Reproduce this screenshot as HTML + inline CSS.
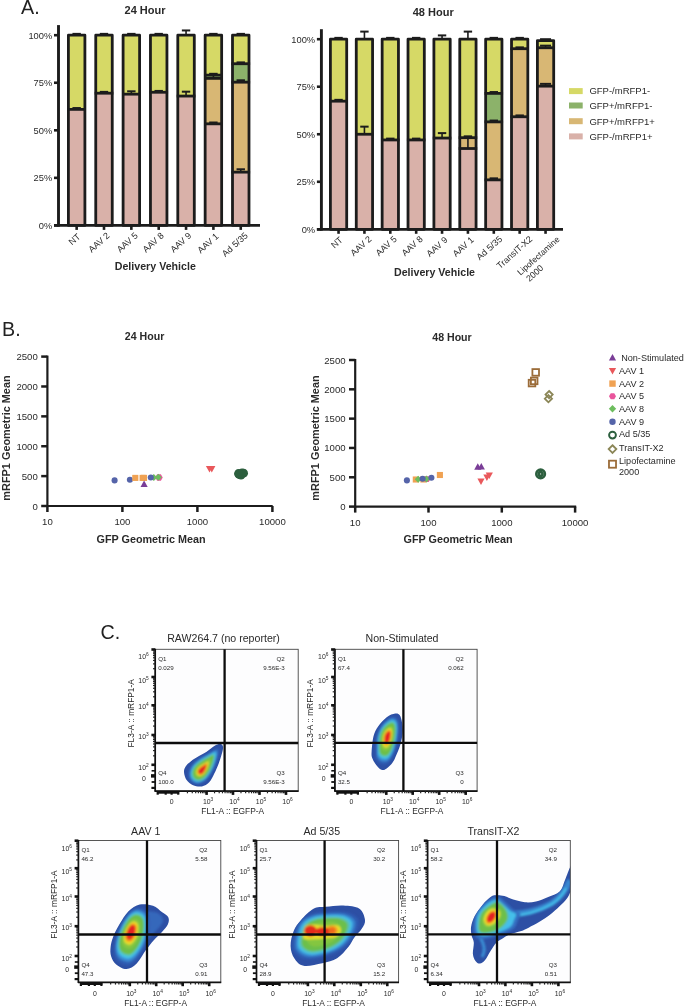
<!DOCTYPE html>
<html><head><meta charset="utf-8"><style>
html,body{margin:0;padding:0;background:#fff;width:685px;height:1008px;overflow:hidden;}
svg{display:block;will-change:transform;}
text{font-family:"Liberation Sans", sans-serif;}
</style></head><body>
<svg width="685" height="1008" viewBox="0 0 685 1008">
<defs><filter id="bl" x="-20%" y="-20%" width="140%" height="140%"><feGaussianBlur stdDeviation="0.85"/></filter><filter id="bl2" x="-20%" y="-20%" width="140%" height="140%"><feGaussianBlur stdDeviation="0.9"/></filter><clipPath id="cp5"><rect x="427.6" y="840.5" width="142.7" height="141.9"/></clipPath></defs>
<rect width="685" height="1008" fill="#fff"/>
<text x="21" y="14" font-size="19.7" fill="#222">A.</text>
<rect x="68.40" y="109.38" width="16.50" height="116.02" fill="#d9b1a9" stroke="none" stroke-width="0"/>
<rect x="68.40" y="35.20" width="16.50" height="74.18" fill="#d6d966" stroke="none" stroke-width="0"/>
<line x1="76.65" y1="109.38" x2="76.65" y2="108.05" stroke="#1c1c1c" stroke-width="1.6"/>
<line x1="72.45" y1="108.05" x2="80.85" y2="108.05" stroke="#1c1c1c" stroke-width="2.0"/>
<line x1="76.65" y1="35.20" x2="76.65" y2="33.87" stroke="#1c1c1c" stroke-width="1.6"/>
<line x1="72.45" y1="33.87" x2="80.85" y2="33.87" stroke="#1c1c1c" stroke-width="2.0"/>
<rect x="68.40" y="35.20" width="16.50" height="190.20" fill="none" stroke="#1c1c1c" stroke-width="2.8" stroke-linejoin="round"/>
<line x1="67.30" y1="109.38" x2="86.00" y2="109.38" stroke="#1c1c1c" stroke-width="2.8"/>
<line x1="76.65" y1="225.40" x2="76.65" y2="229.90" stroke="#1c1c1c" stroke-width="2.6"/>
<rect x="95.75" y="93.21" width="16.50" height="132.19" fill="#d9b1a9" stroke="none" stroke-width="0"/>
<rect x="95.75" y="35.20" width="16.50" height="58.01" fill="#d6d966" stroke="none" stroke-width="0"/>
<line x1="104.00" y1="93.21" x2="104.00" y2="91.88" stroke="#1c1c1c" stroke-width="1.6"/>
<line x1="99.80" y1="91.88" x2="108.20" y2="91.88" stroke="#1c1c1c" stroke-width="2.0"/>
<line x1="104.00" y1="35.20" x2="104.00" y2="33.87" stroke="#1c1c1c" stroke-width="1.6"/>
<line x1="99.80" y1="33.87" x2="108.20" y2="33.87" stroke="#1c1c1c" stroke-width="2.0"/>
<rect x="95.75" y="35.20" width="16.50" height="190.20" fill="none" stroke="#1c1c1c" stroke-width="2.8" stroke-linejoin="round"/>
<line x1="94.65" y1="93.21" x2="113.35" y2="93.21" stroke="#1c1c1c" stroke-width="2.8"/>
<line x1="104.00" y1="225.40" x2="104.00" y2="229.90" stroke="#1c1c1c" stroke-width="2.6"/>
<rect x="123.10" y="94.16" width="16.50" height="131.24" fill="#d9b1a9" stroke="none" stroke-width="0"/>
<rect x="123.10" y="35.20" width="16.50" height="58.96" fill="#d6d966" stroke="none" stroke-width="0"/>
<line x1="131.35" y1="94.16" x2="131.35" y2="91.31" stroke="#1c1c1c" stroke-width="1.6"/>
<line x1="127.15" y1="91.31" x2="135.55" y2="91.31" stroke="#1c1c1c" stroke-width="2.0"/>
<line x1="131.35" y1="35.20" x2="131.35" y2="33.87" stroke="#1c1c1c" stroke-width="1.6"/>
<line x1="127.15" y1="33.87" x2="135.55" y2="33.87" stroke="#1c1c1c" stroke-width="2.0"/>
<rect x="123.10" y="35.20" width="16.50" height="190.20" fill="none" stroke="#1c1c1c" stroke-width="2.8" stroke-linejoin="round"/>
<line x1="122.00" y1="94.16" x2="140.70" y2="94.16" stroke="#1c1c1c" stroke-width="2.8"/>
<line x1="131.35" y1="225.40" x2="131.35" y2="229.90" stroke="#1c1c1c" stroke-width="2.6"/>
<rect x="150.45" y="92.26" width="16.50" height="133.14" fill="#d9b1a9" stroke="none" stroke-width="0"/>
<rect x="150.45" y="35.20" width="16.50" height="57.06" fill="#d6d966" stroke="none" stroke-width="0"/>
<line x1="158.70" y1="92.26" x2="158.70" y2="90.93" stroke="#1c1c1c" stroke-width="1.6"/>
<line x1="154.50" y1="90.93" x2="162.90" y2="90.93" stroke="#1c1c1c" stroke-width="2.0"/>
<line x1="158.70" y1="35.20" x2="158.70" y2="33.87" stroke="#1c1c1c" stroke-width="1.6"/>
<line x1="154.50" y1="33.87" x2="162.90" y2="33.87" stroke="#1c1c1c" stroke-width="2.0"/>
<rect x="150.45" y="35.20" width="16.50" height="190.20" fill="none" stroke="#1c1c1c" stroke-width="2.8" stroke-linejoin="round"/>
<line x1="149.35" y1="92.26" x2="168.05" y2="92.26" stroke="#1c1c1c" stroke-width="2.8"/>
<line x1="158.70" y1="225.40" x2="158.70" y2="229.90" stroke="#1c1c1c" stroke-width="2.6"/>
<rect x="177.80" y="96.06" width="16.50" height="129.34" fill="#d9b1a9" stroke="none" stroke-width="0"/>
<rect x="177.80" y="35.20" width="16.50" height="60.86" fill="#d6d966" stroke="none" stroke-width="0"/>
<line x1="186.05" y1="96.06" x2="186.05" y2="91.69" stroke="#1c1c1c" stroke-width="1.6"/>
<line x1="181.85" y1="91.69" x2="190.25" y2="91.69" stroke="#1c1c1c" stroke-width="2.0"/>
<line x1="186.05" y1="35.20" x2="186.05" y2="30.45" stroke="#1c1c1c" stroke-width="1.6"/>
<line x1="181.85" y1="30.45" x2="190.25" y2="30.45" stroke="#1c1c1c" stroke-width="2.0"/>
<rect x="177.80" y="35.20" width="16.50" height="190.20" fill="none" stroke="#1c1c1c" stroke-width="2.8" stroke-linejoin="round"/>
<line x1="176.70" y1="96.06" x2="195.40" y2="96.06" stroke="#1c1c1c" stroke-width="2.8"/>
<line x1="186.05" y1="225.40" x2="186.05" y2="229.90" stroke="#1c1c1c" stroke-width="2.6"/>
<rect x="205.15" y="123.83" width="16.50" height="101.57" fill="#d9b1a9" stroke="none" stroke-width="0"/>
<rect x="205.15" y="78.38" width="16.50" height="45.46" fill="#d8b774" stroke="none" stroke-width="0"/>
<rect x="205.15" y="75.14" width="16.50" height="3.23" fill="#8cb26a" stroke="none" stroke-width="0"/>
<rect x="205.15" y="35.20" width="16.50" height="39.94" fill="#d6d966" stroke="none" stroke-width="0"/>
<line x1="213.40" y1="78.38" x2="213.40" y2="74.76" stroke="#1c1c1c" stroke-width="1.6"/>
<line x1="209.20" y1="74.76" x2="217.60" y2="74.76" stroke="#1c1c1c" stroke-width="2.0"/>
<line x1="213.40" y1="123.83" x2="213.40" y2="122.50" stroke="#1c1c1c" stroke-width="1.6"/>
<line x1="209.20" y1="122.50" x2="217.60" y2="122.50" stroke="#1c1c1c" stroke-width="2.0"/>
<line x1="213.40" y1="75.14" x2="213.40" y2="73.81" stroke="#1c1c1c" stroke-width="1.6"/>
<line x1="209.20" y1="73.81" x2="217.60" y2="73.81" stroke="#1c1c1c" stroke-width="2.0"/>
<line x1="213.40" y1="35.20" x2="213.40" y2="33.87" stroke="#1c1c1c" stroke-width="1.6"/>
<line x1="209.20" y1="33.87" x2="217.60" y2="33.87" stroke="#1c1c1c" stroke-width="2.0"/>
<rect x="205.15" y="35.20" width="16.50" height="190.20" fill="none" stroke="#1c1c1c" stroke-width="2.8" stroke-linejoin="round"/>
<line x1="204.05" y1="123.83" x2="222.75" y2="123.83" stroke="#1c1c1c" stroke-width="2.8"/>
<line x1="204.05" y1="78.38" x2="222.75" y2="78.38" stroke="#1c1c1c" stroke-width="2.8"/>
<line x1="204.05" y1="75.14" x2="222.75" y2="75.14" stroke="#1c1c1c" stroke-width="2.8"/>
<line x1="213.40" y1="225.40" x2="213.40" y2="229.90" stroke="#1c1c1c" stroke-width="2.6"/>
<rect x="232.50" y="172.14" width="16.50" height="53.26" fill="#d9b1a9" stroke="none" stroke-width="0"/>
<rect x="232.50" y="82.18" width="16.50" height="89.96" fill="#d8b774" stroke="none" stroke-width="0"/>
<rect x="232.50" y="63.73" width="16.50" height="18.45" fill="#8cb26a" stroke="none" stroke-width="0"/>
<rect x="232.50" y="35.20" width="16.50" height="28.53" fill="#d6d966" stroke="none" stroke-width="0"/>
<line x1="240.75" y1="172.14" x2="240.75" y2="169.29" stroke="#1c1c1c" stroke-width="1.6"/>
<line x1="236.55" y1="169.29" x2="244.95" y2="169.29" stroke="#1c1c1c" stroke-width="2.0"/>
<line x1="240.75" y1="82.18" x2="240.75" y2="80.28" stroke="#1c1c1c" stroke-width="1.6"/>
<line x1="236.55" y1="80.28" x2="244.95" y2="80.28" stroke="#1c1c1c" stroke-width="2.0"/>
<line x1="240.75" y1="63.73" x2="240.75" y2="62.40" stroke="#1c1c1c" stroke-width="1.6"/>
<line x1="236.55" y1="62.40" x2="244.95" y2="62.40" stroke="#1c1c1c" stroke-width="2.0"/>
<line x1="240.75" y1="35.20" x2="240.75" y2="33.87" stroke="#1c1c1c" stroke-width="1.6"/>
<line x1="236.55" y1="33.87" x2="244.95" y2="33.87" stroke="#1c1c1c" stroke-width="2.0"/>
<rect x="232.50" y="35.20" width="16.50" height="190.20" fill="none" stroke="#1c1c1c" stroke-width="2.8" stroke-linejoin="round"/>
<line x1="231.40" y1="172.14" x2="250.10" y2="172.14" stroke="#1c1c1c" stroke-width="2.8"/>
<line x1="231.40" y1="82.18" x2="250.10" y2="82.18" stroke="#1c1c1c" stroke-width="2.8"/>
<line x1="231.40" y1="63.73" x2="250.10" y2="63.73" stroke="#1c1c1c" stroke-width="2.8"/>
<line x1="240.75" y1="225.40" x2="240.75" y2="229.90" stroke="#1c1c1c" stroke-width="2.6"/>
<line x1="58.50" y1="25.10" x2="58.50" y2="226.70" stroke="#1c1c1c" stroke-width="2.9"/>
<line x1="54.00" y1="225.40" x2="260.00" y2="225.40" stroke="#1c1c1c" stroke-width="2.7"/>
<line x1="54.00" y1="225.40" x2="58.50" y2="225.40" stroke="#1c1c1c" stroke-width="2.6"/>
<text x="52.20" y="228.70" font-size="9.3" text-anchor="end" font-weight="normal" fill="#2a2a2a" >0%</text>
<line x1="54.00" y1="177.85" x2="58.50" y2="177.85" stroke="#1c1c1c" stroke-width="2.6"/>
<text x="52.20" y="181.15" font-size="9.3" text-anchor="end" font-weight="normal" fill="#2a2a2a" >25%</text>
<line x1="54.00" y1="130.30" x2="58.50" y2="130.30" stroke="#1c1c1c" stroke-width="2.6"/>
<text x="52.20" y="133.60" font-size="9.3" text-anchor="end" font-weight="normal" fill="#2a2a2a" >50%</text>
<line x1="54.00" y1="82.75" x2="58.50" y2="82.75" stroke="#1c1c1c" stroke-width="2.6"/>
<text x="52.20" y="86.05" font-size="9.3" text-anchor="end" font-weight="normal" fill="#2a2a2a" >75%</text>
<line x1="54.00" y1="35.20" x2="58.50" y2="35.20" stroke="#1c1c1c" stroke-width="2.6"/>
<text x="52.20" y="38.50" font-size="9.3" text-anchor="end" font-weight="normal" fill="#2a2a2a" >100%</text>
<text x="145.00" y="13.80" font-size="11" text-anchor="middle" font-weight="bold" fill="#2a2a2a" >24 Hour</text>
<text x="155.30" y="269.80" font-size="10.65" text-anchor="middle" font-weight="bold" fill="#2a2a2a" >Delivery Vehicle</text>
<g transform="translate(81.00,237.50) rotate(-42)">
<text x="0.00" y="0.00" font-size="9.0" text-anchor="end" font-weight="normal" fill="#2a2a2a" >NT</text>
</g>
<g transform="translate(110.20,236.40) rotate(-42)">
<text x="0.00" y="0.00" font-size="9.0" text-anchor="end" font-weight="normal" fill="#2a2a2a" >AAV 2</text>
</g>
<g transform="translate(138.60,236.40) rotate(-42)">
<text x="0.00" y="0.00" font-size="9.0" text-anchor="end" font-weight="normal" fill="#2a2a2a" >AAV 5</text>
</g>
<g transform="translate(164.40,236.40) rotate(-42)">
<text x="0.00" y="0.00" font-size="9.0" text-anchor="end" font-weight="normal" fill="#2a2a2a" >AAV 8</text>
</g>
<g transform="translate(192.10,236.40) rotate(-42)">
<text x="0.00" y="0.00" font-size="9.0" text-anchor="end" font-weight="normal" fill="#2a2a2a" >AAV 9</text>
</g>
<g transform="translate(219.20,237.10) rotate(-42)">
<text x="0.00" y="0.00" font-size="9.0" text-anchor="end" font-weight="normal" fill="#2a2a2a" >AAV 1</text>
</g>
<g transform="translate(248.40,236.40) rotate(-42)">
<text x="0.00" y="0.00" font-size="9.0" text-anchor="end" font-weight="normal" fill="#2a2a2a" >Ad 5/35</text>
</g>
<rect x="330.40" y="101.17" width="16.30" height="128.13" fill="#d9b1a9" stroke="none" stroke-width="0"/>
<rect x="330.40" y="39.20" width="16.30" height="61.97" fill="#d6d966" stroke="none" stroke-width="0"/>
<line x1="338.55" y1="101.17" x2="338.55" y2="99.84" stroke="#1c1c1c" stroke-width="1.6"/>
<line x1="334.35" y1="99.84" x2="342.75" y2="99.84" stroke="#1c1c1c" stroke-width="2.0"/>
<line x1="338.55" y1="39.20" x2="338.55" y2="37.87" stroke="#1c1c1c" stroke-width="1.6"/>
<line x1="334.35" y1="37.87" x2="342.75" y2="37.87" stroke="#1c1c1c" stroke-width="2.0"/>
<rect x="330.40" y="39.20" width="16.30" height="190.10" fill="none" stroke="#1c1c1c" stroke-width="2.8" stroke-linejoin="round"/>
<line x1="329.30" y1="101.17" x2="347.80" y2="101.17" stroke="#1c1c1c" stroke-width="2.8"/>
<line x1="338.55" y1="229.30" x2="338.55" y2="233.80" stroke="#1c1c1c" stroke-width="2.6"/>
<rect x="356.27" y="134.25" width="16.30" height="95.05" fill="#d9b1a9" stroke="none" stroke-width="0"/>
<rect x="356.27" y="39.20" width="16.30" height="95.05" fill="#d6d966" stroke="none" stroke-width="0"/>
<line x1="364.43" y1="134.25" x2="364.43" y2="126.65" stroke="#1c1c1c" stroke-width="1.6"/>
<line x1="360.23" y1="126.65" x2="368.62" y2="126.65" stroke="#1c1c1c" stroke-width="2.0"/>
<line x1="364.43" y1="39.20" x2="364.43" y2="31.60" stroke="#1c1c1c" stroke-width="1.6"/>
<line x1="360.23" y1="31.60" x2="368.62" y2="31.60" stroke="#1c1c1c" stroke-width="2.0"/>
<rect x="356.27" y="39.20" width="16.30" height="190.10" fill="none" stroke="#1c1c1c" stroke-width="2.8" stroke-linejoin="round"/>
<line x1="355.18" y1="134.25" x2="373.68" y2="134.25" stroke="#1c1c1c" stroke-width="2.8"/>
<line x1="364.43" y1="229.30" x2="364.43" y2="233.80" stroke="#1c1c1c" stroke-width="2.6"/>
<rect x="382.15" y="139.95" width="16.30" height="89.35" fill="#d9b1a9" stroke="none" stroke-width="0"/>
<rect x="382.15" y="39.20" width="16.30" height="100.75" fill="#d6d966" stroke="none" stroke-width="0"/>
<line x1="390.30" y1="139.95" x2="390.30" y2="138.62" stroke="#1c1c1c" stroke-width="1.6"/>
<line x1="386.10" y1="138.62" x2="394.50" y2="138.62" stroke="#1c1c1c" stroke-width="2.0"/>
<line x1="390.30" y1="39.20" x2="390.30" y2="37.87" stroke="#1c1c1c" stroke-width="1.6"/>
<line x1="386.10" y1="37.87" x2="394.50" y2="37.87" stroke="#1c1c1c" stroke-width="2.0"/>
<rect x="382.15" y="39.20" width="16.30" height="190.10" fill="none" stroke="#1c1c1c" stroke-width="2.8" stroke-linejoin="round"/>
<line x1="381.05" y1="139.95" x2="399.55" y2="139.95" stroke="#1c1c1c" stroke-width="2.8"/>
<line x1="390.30" y1="229.30" x2="390.30" y2="233.80" stroke="#1c1c1c" stroke-width="2.6"/>
<rect x="408.02" y="139.95" width="16.30" height="89.35" fill="#d9b1a9" stroke="none" stroke-width="0"/>
<rect x="408.02" y="39.20" width="16.30" height="100.75" fill="#d6d966" stroke="none" stroke-width="0"/>
<line x1="416.18" y1="139.95" x2="416.18" y2="138.62" stroke="#1c1c1c" stroke-width="1.6"/>
<line x1="411.98" y1="138.62" x2="420.38" y2="138.62" stroke="#1c1c1c" stroke-width="2.0"/>
<line x1="416.18" y1="39.20" x2="416.18" y2="37.87" stroke="#1c1c1c" stroke-width="1.6"/>
<line x1="411.98" y1="37.87" x2="420.38" y2="37.87" stroke="#1c1c1c" stroke-width="2.0"/>
<rect x="408.02" y="39.20" width="16.30" height="190.10" fill="none" stroke="#1c1c1c" stroke-width="2.8" stroke-linejoin="round"/>
<line x1="406.93" y1="139.95" x2="425.43" y2="139.95" stroke="#1c1c1c" stroke-width="2.8"/>
<line x1="416.18" y1="229.30" x2="416.18" y2="233.80" stroke="#1c1c1c" stroke-width="2.6"/>
<rect x="433.90" y="138.05" width="16.30" height="91.25" fill="#d9b1a9" stroke="none" stroke-width="0"/>
<rect x="433.90" y="39.20" width="16.30" height="98.85" fill="#d6d966" stroke="none" stroke-width="0"/>
<line x1="442.05" y1="138.05" x2="442.05" y2="133.11" stroke="#1c1c1c" stroke-width="1.6"/>
<line x1="437.85" y1="133.11" x2="446.25" y2="133.11" stroke="#1c1c1c" stroke-width="2.0"/>
<line x1="442.05" y1="39.20" x2="442.05" y2="35.40" stroke="#1c1c1c" stroke-width="1.6"/>
<line x1="437.85" y1="35.40" x2="446.25" y2="35.40" stroke="#1c1c1c" stroke-width="2.0"/>
<rect x="433.90" y="39.20" width="16.30" height="190.10" fill="none" stroke="#1c1c1c" stroke-width="2.8" stroke-linejoin="round"/>
<line x1="432.80" y1="138.05" x2="451.30" y2="138.05" stroke="#1c1c1c" stroke-width="2.8"/>
<line x1="442.05" y1="229.30" x2="442.05" y2="233.80" stroke="#1c1c1c" stroke-width="2.6"/>
<rect x="459.77" y="148.51" width="16.30" height="80.79" fill="#d9b1a9" stroke="none" stroke-width="0"/>
<rect x="459.77" y="137.67" width="16.30" height="10.84" fill="#d8b774" stroke="none" stroke-width="0"/>
<rect x="459.77" y="39.20" width="16.30" height="98.47" fill="#d6d966" stroke="none" stroke-width="0"/>
<line x1="467.93" y1="148.51" x2="467.93" y2="137.67" stroke="#1c1c1c" stroke-width="1.6"/>
<line x1="463.73" y1="137.67" x2="472.12" y2="137.67" stroke="#1c1c1c" stroke-width="2.0"/>
<line x1="467.93" y1="39.20" x2="467.93" y2="31.60" stroke="#1c1c1c" stroke-width="1.6"/>
<line x1="463.73" y1="31.60" x2="472.12" y2="31.60" stroke="#1c1c1c" stroke-width="2.0"/>
<line x1="467.93" y1="137.67" x2="467.93" y2="136.34" stroke="#1c1c1c" stroke-width="1.6"/>
<line x1="463.73" y1="136.34" x2="472.12" y2="136.34" stroke="#1c1c1c" stroke-width="2.0"/>
<rect x="459.77" y="39.20" width="16.30" height="190.10" fill="none" stroke="#1c1c1c" stroke-width="2.8" stroke-linejoin="round"/>
<line x1="458.68" y1="148.51" x2="477.18" y2="148.51" stroke="#1c1c1c" stroke-width="2.8"/>
<line x1="458.68" y1="137.67" x2="477.18" y2="137.67" stroke="#1c1c1c" stroke-width="2.8"/>
<line x1="467.93" y1="229.30" x2="467.93" y2="233.80" stroke="#1c1c1c" stroke-width="2.6"/>
<rect x="485.65" y="179.87" width="16.30" height="49.43" fill="#d9b1a9" stroke="none" stroke-width="0"/>
<rect x="485.65" y="121.89" width="16.30" height="57.98" fill="#d8b774" stroke="none" stroke-width="0"/>
<rect x="485.65" y="93.38" width="16.30" height="28.52" fill="#8cb26a" stroke="none" stroke-width="0"/>
<rect x="485.65" y="39.20" width="16.30" height="54.18" fill="#d6d966" stroke="none" stroke-width="0"/>
<line x1="493.80" y1="179.87" x2="493.80" y2="178.35" stroke="#1c1c1c" stroke-width="1.6"/>
<line x1="489.60" y1="178.35" x2="498.00" y2="178.35" stroke="#1c1c1c" stroke-width="2.0"/>
<line x1="493.80" y1="121.89" x2="493.80" y2="120.56" stroke="#1c1c1c" stroke-width="1.6"/>
<line x1="489.60" y1="120.56" x2="498.00" y2="120.56" stroke="#1c1c1c" stroke-width="2.0"/>
<line x1="493.80" y1="93.38" x2="493.80" y2="92.05" stroke="#1c1c1c" stroke-width="1.6"/>
<line x1="489.60" y1="92.05" x2="498.00" y2="92.05" stroke="#1c1c1c" stroke-width="2.0"/>
<line x1="493.80" y1="39.20" x2="493.80" y2="37.87" stroke="#1c1c1c" stroke-width="1.6"/>
<line x1="489.60" y1="37.87" x2="498.00" y2="37.87" stroke="#1c1c1c" stroke-width="2.0"/>
<rect x="485.65" y="39.20" width="16.30" height="190.10" fill="none" stroke="#1c1c1c" stroke-width="2.8" stroke-linejoin="round"/>
<line x1="484.55" y1="179.87" x2="503.05" y2="179.87" stroke="#1c1c1c" stroke-width="2.8"/>
<line x1="484.55" y1="121.89" x2="503.05" y2="121.89" stroke="#1c1c1c" stroke-width="2.8"/>
<line x1="484.55" y1="93.38" x2="503.05" y2="93.38" stroke="#1c1c1c" stroke-width="2.8"/>
<line x1="493.80" y1="229.30" x2="493.80" y2="233.80" stroke="#1c1c1c" stroke-width="2.6"/>
<rect x="511.52" y="116.76" width="16.30" height="112.54" fill="#d9b1a9" stroke="none" stroke-width="0"/>
<rect x="511.52" y="48.70" width="16.30" height="68.06" fill="#d8b774" stroke="none" stroke-width="0"/>
<rect x="511.52" y="39.20" width="16.30" height="9.50" fill="#d6d966" stroke="none" stroke-width="0"/>
<line x1="519.67" y1="116.76" x2="519.67" y2="115.43" stroke="#1c1c1c" stroke-width="1.6"/>
<line x1="515.47" y1="115.43" x2="523.88" y2="115.43" stroke="#1c1c1c" stroke-width="2.0"/>
<line x1="519.67" y1="48.70" x2="519.67" y2="47.37" stroke="#1c1c1c" stroke-width="1.6"/>
<line x1="515.47" y1="47.37" x2="523.88" y2="47.37" stroke="#1c1c1c" stroke-width="2.0"/>
<line x1="519.67" y1="39.20" x2="519.67" y2="37.87" stroke="#1c1c1c" stroke-width="1.6"/>
<line x1="515.47" y1="37.87" x2="523.88" y2="37.87" stroke="#1c1c1c" stroke-width="2.0"/>
<rect x="511.52" y="39.20" width="16.30" height="190.10" fill="none" stroke="#1c1c1c" stroke-width="2.8" stroke-linejoin="round"/>
<line x1="510.43" y1="116.76" x2="528.93" y2="116.76" stroke="#1c1c1c" stroke-width="2.8"/>
<line x1="510.43" y1="48.70" x2="528.93" y2="48.70" stroke="#1c1c1c" stroke-width="2.8"/>
<line x1="519.67" y1="229.30" x2="519.67" y2="233.80" stroke="#1c1c1c" stroke-width="2.6"/>
<rect x="537.40" y="86.15" width="16.30" height="143.15" fill="#d9b1a9" stroke="none" stroke-width="0"/>
<rect x="537.40" y="47.75" width="16.30" height="38.40" fill="#d8b774" stroke="none" stroke-width="0"/>
<rect x="537.40" y="40.53" width="16.30" height="7.22" fill="#d6d966" stroke="none" stroke-width="0"/>
<line x1="545.55" y1="86.15" x2="545.55" y2="83.87" stroke="#1c1c1c" stroke-width="1.6"/>
<line x1="540.05" y1="83.87" x2="551.05" y2="83.87" stroke="#1c1c1c" stroke-width="2.0"/>
<line x1="545.55" y1="47.75" x2="545.55" y2="45.66" stroke="#1c1c1c" stroke-width="1.6"/>
<line x1="540.05" y1="45.66" x2="551.05" y2="45.66" stroke="#1c1c1c" stroke-width="2.0"/>
<line x1="545.55" y1="40.53" x2="545.55" y2="39.20" stroke="#1c1c1c" stroke-width="1.6"/>
<line x1="540.05" y1="39.20" x2="551.05" y2="39.20" stroke="#1c1c1c" stroke-width="2.0"/>
<rect x="537.40" y="40.53" width="16.30" height="188.77" fill="none" stroke="#1c1c1c" stroke-width="2.8" stroke-linejoin="round"/>
<line x1="536.30" y1="86.15" x2="554.80" y2="86.15" stroke="#1c1c1c" stroke-width="2.8"/>
<line x1="536.30" y1="47.75" x2="554.80" y2="47.75" stroke="#1c1c1c" stroke-width="2.8"/>
<line x1="545.55" y1="229.30" x2="545.55" y2="233.80" stroke="#1c1c1c" stroke-width="2.6"/>
<line x1="321.40" y1="29.20" x2="321.40" y2="230.60" stroke="#1c1c1c" stroke-width="2.9"/>
<line x1="316.90" y1="229.30" x2="563.00" y2="229.30" stroke="#1c1c1c" stroke-width="2.7"/>
<line x1="316.90" y1="229.30" x2="321.40" y2="229.30" stroke="#1c1c1c" stroke-width="2.6"/>
<text x="315.10" y="232.60" font-size="9.3" text-anchor="end" font-weight="normal" fill="#2a2a2a" >0%</text>
<line x1="316.90" y1="181.78" x2="321.40" y2="181.78" stroke="#1c1c1c" stroke-width="2.6"/>
<text x="315.10" y="185.08" font-size="9.3" text-anchor="end" font-weight="normal" fill="#2a2a2a" >25%</text>
<line x1="316.90" y1="134.25" x2="321.40" y2="134.25" stroke="#1c1c1c" stroke-width="2.6"/>
<text x="315.10" y="137.55" font-size="9.3" text-anchor="end" font-weight="normal" fill="#2a2a2a" >50%</text>
<line x1="316.90" y1="86.72" x2="321.40" y2="86.72" stroke="#1c1c1c" stroke-width="2.6"/>
<text x="315.10" y="90.02" font-size="9.3" text-anchor="end" font-weight="normal" fill="#2a2a2a" >75%</text>
<line x1="316.90" y1="39.20" x2="321.40" y2="39.20" stroke="#1c1c1c" stroke-width="2.6"/>
<text x="315.10" y="42.50" font-size="9.3" text-anchor="end" font-weight="normal" fill="#2a2a2a" >100%</text>
<text x="433.20" y="15.80" font-size="11" text-anchor="middle" font-weight="bold" fill="#2a2a2a" >48 Hour</text>
<text x="434.50" y="275.80" font-size="10.65" text-anchor="middle" font-weight="bold" fill="#2a2a2a" >Delivery Vehicle</text>
<g transform="translate(343.40,240.80) rotate(-42)">
<text x="0.00" y="0.00" font-size="9.0" text-anchor="end" font-weight="normal" fill="#2a2a2a" >NT</text>
</g>
<g transform="translate(372.30,239.80) rotate(-42)">
<text x="0.00" y="0.00" font-size="9.0" text-anchor="end" font-weight="normal" fill="#2a2a2a" >AAV 2</text>
</g>
<g transform="translate(397.40,239.80) rotate(-42)">
<text x="0.00" y="0.00" font-size="9.0" text-anchor="end" font-weight="normal" fill="#2a2a2a" >AAV 5</text>
</g>
<g transform="translate(423.40,239.80) rotate(-42)">
<text x="0.00" y="0.00" font-size="9.0" text-anchor="end" font-weight="normal" fill="#2a2a2a" >AAV 8</text>
</g>
<g transform="translate(448.20,240.60) rotate(-42)">
<text x="0.00" y="0.00" font-size="9.0" text-anchor="end" font-weight="normal" fill="#2a2a2a" >AAV 9</text>
</g>
<g transform="translate(474.40,240.60) rotate(-42)">
<text x="0.00" y="0.00" font-size="9.0" text-anchor="end" font-weight="normal" fill="#2a2a2a" >AAV 1</text>
</g>
<g transform="translate(502.90,239.80) rotate(-42)">
<text x="0.00" y="0.00" font-size="9.0" text-anchor="end" font-weight="normal" fill="#2a2a2a" >Ad 5/35</text>
</g>
<g transform="translate(532.90,239.80) rotate(-42)">
<text x="0.00" y="0.00" font-size="9.0" text-anchor="end" font-weight="normal" fill="#2a2a2a" >TransIT-X2</text>
</g>
<g transform="translate(560.30,240.00) rotate(-42)">
<text x="0" y="0" font-size="8.6" fill="#2a2a2a" text-anchor="end">Lipofectamine</text>
<text x="-51" y="10.5" font-size="8.8" fill="#2a2a2a" text-anchor="start">2000</text>
</g>
<rect x="569.00" y="88.10" width="13.70" height="6.00" fill="#d6d966" stroke="none" stroke-width="0"/>
<text x="589.40" y="94.40" font-size="9.5" text-anchor="start" font-weight="normal" fill="#2a2a2a" >GFP-/mRFP1-</text>
<rect x="569.00" y="102.50" width="13.70" height="6.00" fill="#8cb26a" stroke="none" stroke-width="0"/>
<text x="589.40" y="108.80" font-size="9.5" text-anchor="start" font-weight="normal" fill="#2a2a2a" >GFP+/mRFP1-</text>
<rect x="569.00" y="118.20" width="13.70" height="6.00" fill="#d8b774" stroke="none" stroke-width="0"/>
<text x="589.40" y="124.50" font-size="9.5" text-anchor="start" font-weight="normal" fill="#2a2a2a" >GFP+/mRFP1+</text>
<rect x="569.00" y="133.40" width="13.70" height="6.00" fill="#d9b1a9" stroke="none" stroke-width="0"/>
<text x="589.40" y="139.70" font-size="9.5" text-anchor="start" font-weight="normal" fill="#2a2a2a" >GFP-/mRFP1+</text>
<text x="2" y="335.8" font-size="19.7" fill="#222">B.</text>
<line x1="47.40" y1="355.60" x2="47.40" y2="507.00" stroke="#1c1c1c" stroke-width="2.2"/>
<line x1="46.40" y1="506.00" x2="272.70" y2="506.00" stroke="#1c1c1c" stroke-width="2.2"/>
<line x1="41.20" y1="506.00" x2="47.40" y2="506.00" stroke="#1c1c1c" stroke-width="2.5"/>
<text x="37.80" y="509.50" font-size="9.6" text-anchor="end" font-weight="normal" fill="#2a2a2a" >0</text>
<line x1="41.20" y1="476.12" x2="47.40" y2="476.12" stroke="#1c1c1c" stroke-width="2.5"/>
<text x="37.80" y="479.62" font-size="9.6" text-anchor="end" font-weight="normal" fill="#2a2a2a" >500</text>
<line x1="41.20" y1="446.24" x2="47.40" y2="446.24" stroke="#1c1c1c" stroke-width="2.5"/>
<text x="37.80" y="449.74" font-size="9.6" text-anchor="end" font-weight="normal" fill="#2a2a2a" >1000</text>
<line x1="41.20" y1="416.36" x2="47.40" y2="416.36" stroke="#1c1c1c" stroke-width="2.5"/>
<text x="37.80" y="419.86" font-size="9.6" text-anchor="end" font-weight="normal" fill="#2a2a2a" >1500</text>
<line x1="41.20" y1="386.48" x2="47.40" y2="386.48" stroke="#1c1c1c" stroke-width="2.5"/>
<text x="37.80" y="389.98" font-size="9.6" text-anchor="end" font-weight="normal" fill="#2a2a2a" >2000</text>
<line x1="41.20" y1="356.60" x2="47.40" y2="356.60" stroke="#1c1c1c" stroke-width="2.5"/>
<text x="37.80" y="360.10" font-size="9.6" text-anchor="end" font-weight="normal" fill="#2a2a2a" >2500</text>
<line x1="47.40" y1="506.00" x2="47.40" y2="512.00" stroke="#1c1c1c" stroke-width="2.5"/>
<text x="47.40" y="525.00" font-size="9.6" text-anchor="middle" font-weight="normal" fill="#2a2a2a" >10</text>
<line x1="122.40" y1="506.00" x2="122.40" y2="512.00" stroke="#1c1c1c" stroke-width="2.5"/>
<text x="122.40" y="525.00" font-size="9.6" text-anchor="middle" font-weight="normal" fill="#2a2a2a" >100</text>
<line x1="197.40" y1="506.00" x2="197.40" y2="512.00" stroke="#1c1c1c" stroke-width="2.5"/>
<text x="197.40" y="525.00" font-size="9.6" text-anchor="middle" font-weight="normal" fill="#2a2a2a" >1000</text>
<line x1="272.40" y1="506.00" x2="272.40" y2="512.00" stroke="#1c1c1c" stroke-width="2.5"/>
<text x="272.40" y="525.00" font-size="9.6" text-anchor="middle" font-weight="normal" fill="#2a2a2a" >10000</text>
<text x="144.60" y="340.00" font-size="10.6" text-anchor="middle" font-weight="bold" fill="#2a2a2a" >24 Hour</text>
<text x="151.00" y="543.00" font-size="10.8" text-anchor="middle" font-weight="bold" fill="#2a2a2a" >GFP Geometric Mean</text>
<text transform="translate(10.00,438) rotate(-90)" font-size="10.9" font-weight="bold" text-anchor="middle" fill="#2a2a2a">mRFP1 Geometric Mean</text>
<line x1="355.20" y1="359.00" x2="355.20" y2="507.60" stroke="#1c1c1c" stroke-width="2.2"/>
<line x1="354.20" y1="506.60" x2="576.20" y2="506.60" stroke="#1c1c1c" stroke-width="2.2"/>
<line x1="349.00" y1="506.60" x2="355.20" y2="506.60" stroke="#1c1c1c" stroke-width="2.5"/>
<text x="345.60" y="510.10" font-size="9.6" text-anchor="end" font-weight="normal" fill="#2a2a2a" >0</text>
<line x1="349.00" y1="477.28" x2="355.20" y2="477.28" stroke="#1c1c1c" stroke-width="2.5"/>
<text x="345.60" y="480.78" font-size="9.6" text-anchor="end" font-weight="normal" fill="#2a2a2a" >500</text>
<line x1="349.00" y1="447.96" x2="355.20" y2="447.96" stroke="#1c1c1c" stroke-width="2.5"/>
<text x="345.60" y="451.46" font-size="9.6" text-anchor="end" font-weight="normal" fill="#2a2a2a" >1000</text>
<line x1="349.00" y1="418.64" x2="355.20" y2="418.64" stroke="#1c1c1c" stroke-width="2.5"/>
<text x="345.60" y="422.14" font-size="9.6" text-anchor="end" font-weight="normal" fill="#2a2a2a" >1500</text>
<line x1="349.00" y1="389.32" x2="355.20" y2="389.32" stroke="#1c1c1c" stroke-width="2.5"/>
<text x="345.60" y="392.82" font-size="9.6" text-anchor="end" font-weight="normal" fill="#2a2a2a" >2000</text>
<line x1="349.00" y1="360.00" x2="355.20" y2="360.00" stroke="#1c1c1c" stroke-width="2.5"/>
<text x="345.60" y="363.50" font-size="9.6" text-anchor="end" font-weight="normal" fill="#2a2a2a" >2500</text>
<line x1="355.20" y1="506.60" x2="355.20" y2="512.60" stroke="#1c1c1c" stroke-width="2.5"/>
<text x="355.20" y="525.60" font-size="9.6" text-anchor="middle" font-weight="normal" fill="#2a2a2a" >10</text>
<line x1="428.50" y1="506.60" x2="428.50" y2="512.60" stroke="#1c1c1c" stroke-width="2.5"/>
<text x="428.50" y="525.60" font-size="9.6" text-anchor="middle" font-weight="normal" fill="#2a2a2a" >100</text>
<line x1="501.80" y1="506.60" x2="501.80" y2="512.60" stroke="#1c1c1c" stroke-width="2.5"/>
<text x="501.80" y="525.60" font-size="9.6" text-anchor="middle" font-weight="normal" fill="#2a2a2a" >1000</text>
<line x1="575.10" y1="506.60" x2="575.10" y2="512.60" stroke="#1c1c1c" stroke-width="2.5"/>
<text x="575.10" y="525.60" font-size="9.6" text-anchor="middle" font-weight="normal" fill="#2a2a2a" >10000</text>
<text x="452.00" y="341.00" font-size="10.6" text-anchor="middle" font-weight="bold" fill="#2a2a2a" >48 Hour</text>
<text x="458.00" y="543.00" font-size="10.8" text-anchor="middle" font-weight="bold" fill="#2a2a2a" >GFP Geometric Mean</text>
<text transform="translate(318.50,438) rotate(-90)" font-size="10.9" font-weight="bold" text-anchor="middle" fill="#2a2a2a">mRFP1 Geometric Mean</text>
<circle cx="114.60" cy="480.40" r="3.05" fill="#5564a9"/>
<circle cx="129.90" cy="479.70" r="3.05" fill="#5564a9"/>
<rect x="132.25" y="474.85" width="6.10" height="6.10" fill="#f0a253" stroke="none" stroke-width="0"/>
<rect x="139.55" y="474.85" width="6.10" height="6.10" fill="#f0a253" stroke="none" stroke-width="0"/>
<rect x="140.95" y="474.85" width="6.10" height="6.10" fill="#f0a253" stroke="none" stroke-width="0"/>
<path d="M144.10,480.60 L147.70,487.08 L140.50,487.08Z" fill="#7a3d97"/>
<path d="M153.80,473.89 L157.31,477.40 L153.80,480.91 L150.29,477.40Z" fill="#6dbd5e"/>
<circle cx="150.80" cy="477.50" r="3.05" fill="#5564a9"/>
<polygon points="162.74,477.40 160.87,480.64 157.13,480.64 155.26,477.40 157.13,474.16 160.87,474.16" fill="#e9559c"/>
<path d="M158.30,473.69 L161.81,477.20 L158.30,480.71 L154.79,477.20Z" fill="#6dbd5e"/>
<path d="M209.50,472.40 L213.10,465.92 L205.90,465.92Z" fill="#e9585b"/>
<path d="M211.80,472.60 L215.40,466.12 L208.20,466.12Z" fill="#e9585b"/>
<circle cx="239" cy="474.5" r="4.4" fill="#2c5f3e"/>
<circle cx="242" cy="472.8" r="4.4" fill="#2c5f3e"/>
<circle cx="241" cy="475.2" r="4.4" fill="#2c5f3e"/>
<circle cx="243.6" cy="473.2" r="4.4" fill="#2c5f3e"/>
<circle cx="238.5" cy="473.5" r="4.4" fill="#2c5f3e"/>
<circle cx="406.90" cy="480.40" r="3.05" fill="#5564a9"/>
<rect x="412.75" y="476.45" width="6.10" height="6.10" fill="#f0a253" stroke="none" stroke-width="0"/>
<path d="M418.20,475.79 L421.71,479.30 L418.20,482.81 L414.69,479.30Z" fill="#6dbd5e"/>
<rect x="420.35" y="476.45" width="6.10" height="6.10" fill="#f0a253" stroke="none" stroke-width="0"/>
<polygon points="430.36,479.20 428.68,482.11 425.32,482.11 423.64,479.20 425.32,476.29 428.68,476.29" fill="#e9559c"/>
<path d="M426.50,475.49 L430.01,479.00 L426.50,482.51 L422.99,479.00Z" fill="#6dbd5e"/>
<circle cx="422.60" cy="478.70" r="3.05" fill="#5564a9"/>
<circle cx="431.40" cy="477.80" r="3.05" fill="#5564a9"/>
<rect x="436.85" y="471.95" width="6.10" height="6.10" fill="#f0a253" stroke="none" stroke-width="0"/>
<path d="M477.80,463.20 L481.40,469.68 L474.20,469.68Z" fill="#7a3d97"/>
<path d="M481.30,463.00 L484.90,469.48 L477.70,469.48Z" fill="#7a3d97"/>
<path d="M481.00,484.90 L484.60,478.42 L477.40,478.42Z" fill="#e9585b"/>
<path d="M486.90,481.10 L490.50,474.62 L483.30,474.62Z" fill="#e9585b"/>
<path d="M489.30,478.90 L492.90,472.42 L485.70,472.42Z" fill="#e9585b"/>
<circle cx="540.6" cy="473.9" r="4.3" fill="none" stroke="#2c5f3e" stroke-width="2.6"/>
<circle cx="540.6" cy="473.9" r="3.2" fill="#2c5f3e"/><circle cx="540.6" cy="473.9" r="0.6" fill="#ddd"/>
<rect x="532.40" y="369.10" width="6.60" height="6.60" fill="none" stroke="#9b6c39" stroke-width="1.8"/>
<rect x="530.90" y="377.60" width="6.60" height="6.60" fill="none" stroke="#9b6c39" stroke-width="1.8"/>
<rect x="528.70" y="379.80" width="6.60" height="6.60" fill="none" stroke="#9b6c39" stroke-width="1.8"/>
<path d="M549.10,391.00 L552.70,394.60 L549.10,398.20 L545.50,394.60Z" fill="none" stroke="#8b8657" stroke-width="1.8"/>
<path d="M548.40,395.10 L552.00,398.70 L548.40,402.30 L544.80,398.70Z" fill="none" stroke="#8b8657" stroke-width="1.8"/>
<path d="M612.50,354.00 L616.10,360.48 L608.90,360.48Z" fill="#7a3d97"/>
<text x="621.20" y="360.80" font-size="9.1" text-anchor="start" font-weight="normal" fill="#2a2a2a" >Non-Stimulated</text>
<path d="M612.50,374.60 L616.10,368.12 L608.90,368.12Z" fill="#e9585b"/>
<text x="619.00" y="374.20" font-size="9.1" text-anchor="start" font-weight="normal" fill="#2a2a2a" >AAV 1</text>
<rect x="609.30" y="380.40" width="6.40" height="6.40" fill="#f0a253" stroke="none" stroke-width="0"/>
<text x="619.00" y="386.80" font-size="9.1" text-anchor="start" font-weight="normal" fill="#2a2a2a" >AAV 2</text>
<polygon points="616.02,396.20 614.26,399.25 610.74,399.25 608.98,396.20 610.74,393.15 614.26,393.15" fill="#e9559c"/>
<text x="619.00" y="399.40" font-size="9.1" text-anchor="start" font-weight="normal" fill="#2a2a2a" >AAV 5</text>
<path d="M612.50,405.12 L616.18,408.80 L612.50,412.48 L608.82,408.80Z" fill="#6dbd5e"/>
<text x="619.00" y="412.00" font-size="9.1" text-anchor="start" font-weight="normal" fill="#2a2a2a" >AAV 8</text>
<circle cx="612.50" cy="421.70" r="3.20" fill="#5564a9"/>
<text x="619.00" y="424.90" font-size="9.1" text-anchor="start" font-weight="normal" fill="#2a2a2a" >AAV 9</text>
<circle cx="612.50" cy="435.10" r="3.42" fill="none" stroke="#2c5f3e" stroke-width="1.9"/>
<text x="619.00" y="436.80" font-size="9.1" text-anchor="start" font-weight="normal" fill="#2a2a2a" >Ad 5/35</text>
<path d="M612.50,445.26 L616.34,449.10 L612.50,452.94 L608.66,449.10Z" fill="none" stroke="#8b8657" stroke-width="1.8"/>
<text x="619.00" y="451.40" font-size="9.1" text-anchor="start" font-weight="normal" fill="#2a2a2a" >TransIT-X2</text>
<rect x="608.98" y="460.68" width="7.04" height="7.04" fill="none" stroke="#9b6c39" stroke-width="1.8"/>
<text x="619.00" y="464.40" font-size="9.1" text-anchor="start" font-weight="normal" fill="#2a2a2a" >Lipofectamine</text>
<text x="619.00" y="474.90" font-size="9.1" text-anchor="start" font-weight="normal" fill="#2a2a2a" >2000</text>
<text x="100.5" y="638.8" font-size="19.7" fill="#222">C.</text>
<rect x="155.20" y="649.30" width="143.00" height="141.80" fill="#fdfdfe" stroke="none" stroke-width="0"/>
<clipPath id="bc1"><path d="M184.00,772.10 C183.87,769.80 184.63,768.12 185.80,766.30 C186.97,764.48 188.80,762.90 191.00,761.20 C193.20,759.50 196.45,757.63 199.00,756.10 C201.55,754.57 204.00,753.53 206.30,752.00 C208.60,750.47 210.73,748.23 212.80,746.90 C214.87,745.57 217.17,744.37 218.70,744.00 C220.23,743.63 221.27,744.03 222.00,744.70 C222.73,745.37 223.17,746.35 223.10,748.00 C223.03,749.65 222.33,752.03 221.60,754.60 C220.87,757.17 219.92,760.23 218.70,763.40 C217.48,766.57 215.88,770.45 214.30,773.60 C212.72,776.75 211.27,780.17 209.20,782.30 C207.13,784.43 204.58,785.90 201.90,786.40 C199.22,786.90 195.65,786.35 193.10,785.30 C190.55,784.25 188.12,782.30 186.60,780.10 C185.08,777.90 184.13,774.40 184.00,772.10 Z"/></clipPath>
<path d="M184.00,772.10 C183.87,769.80 184.63,768.12 185.80,766.30 C186.97,764.48 188.80,762.90 191.00,761.20 C193.20,759.50 196.45,757.63 199.00,756.10 C201.55,754.57 204.00,753.53 206.30,752.00 C208.60,750.47 210.73,748.23 212.80,746.90 C214.87,745.57 217.17,744.37 218.70,744.00 C220.23,743.63 221.27,744.03 222.00,744.70 C222.73,745.37 223.17,746.35 223.10,748.00 C223.03,749.65 222.33,752.03 221.60,754.60 C220.87,757.17 219.92,760.23 218.70,763.40 C217.48,766.57 215.88,770.45 214.30,773.60 C212.72,776.75 211.27,780.17 209.20,782.30 C207.13,784.43 204.58,785.90 201.90,786.40 C199.22,786.90 195.65,786.35 193.10,785.30 C190.55,784.25 188.12,782.30 186.60,780.10 C185.08,777.90 184.13,774.40 184.00,772.10 Z" fill="#2d4fa4"/>
<g clip-path="url(#bc1)"><g filter="url(#bl)">
<path d="M188.32,775.25 C188.26,772.81 189.08,769.58 190.58,767.00 C192.08,764.42 194.22,762.17 197.32,759.75 C200.43,757.33 205.85,754.48 209.20,752.50 C212.55,750.52 215.76,748.19 217.45,747.88 C219.14,747.56 219.33,748.65 219.33,750.62 C219.33,752.60 218.51,756.40 217.45,759.75 C216.39,763.10 214.93,767.25 212.95,770.75 C210.97,774.25 208.18,778.48 205.58,780.75 C202.97,783.02 199.76,784.23 197.32,784.38 C194.89,784.52 192.45,783.15 190.95,781.62 C189.45,780.10 188.39,777.69 188.32,775.25 Z" fill="#2f5cb2"/>
<path d="M189.72,774.76 C189.66,772.57 190.39,769.68 191.73,767.36 C193.08,765.05 195.00,763.03 197.78,760.87 C200.56,758.70 205.41,756.15 208.42,754.37 C211.43,752.60 214.30,750.51 215.81,750.23 C217.32,749.95 217.49,750.92 217.49,752.69 C217.49,754.47 216.76,757.86 215.81,760.87 C214.86,763.87 213.55,767.59 211.78,770.72 C210.01,773.86 207.51,777.65 205.17,779.68 C202.84,781.72 199.96,782.80 197.78,782.93 C195.60,783.06 193.41,781.83 192.07,780.47 C190.72,779.11 189.77,776.94 189.72,774.76 Z" fill="#3a8ad3"/>
<path d="M191.00,774.30 C190.95,772.35 191.60,769.77 192.80,767.70 C194.00,765.63 195.72,763.83 198.20,761.90 C200.68,759.97 205.02,757.68 207.70,756.10 C210.38,754.52 212.95,752.65 214.30,752.40 C215.65,752.15 215.80,753.02 215.80,754.60 C215.80,756.18 215.15,759.22 214.30,761.90 C213.45,764.58 212.28,767.90 210.70,770.70 C209.12,773.50 206.88,776.88 204.80,778.70 C202.72,780.52 200.15,781.48 198.20,781.60 C196.25,781.72 194.30,780.62 193.10,779.40 C191.90,778.18 191.05,776.25 191.00,774.30 Z" fill="#44c4ee"/>
<path d="M191.75,774.03 C191.70,772.22 192.31,769.82 193.42,767.90 C194.54,765.97 196.14,764.30 198.44,762.50 C200.75,760.70 204.78,758.58 207.28,757.11 C209.78,755.64 212.16,753.90 213.42,753.67 C214.67,753.43 214.81,754.24 214.81,755.71 C214.81,757.19 214.21,760.01 213.42,762.50 C212.63,765.00 211.54,768.08 210.07,770.69 C208.60,773.29 206.52,776.44 204.58,778.13 C202.65,779.82 200.26,780.71 198.44,780.82 C196.63,780.93 194.82,779.91 193.70,778.78 C192.59,777.65 191.80,775.85 191.75,774.03 Z" fill="#52c4c0"/>
<path d="M192.50,773.77 C192.45,772.09 193.01,769.87 194.05,768.09 C195.08,766.31 196.55,764.77 198.69,763.10 C200.83,761.44 204.55,759.48 206.86,758.12 C209.17,756.75 211.38,755.15 212.54,754.93 C213.70,754.72 213.83,755.46 213.83,756.83 C213.83,758.19 213.27,760.80 212.54,763.10 C211.81,765.41 210.80,768.26 209.44,770.67 C208.08,773.08 206.16,775.99 204.37,777.55 C202.57,779.11 200.37,779.95 198.69,780.05 C197.01,780.15 195.34,779.20 194.30,778.15 C193.27,777.11 192.54,775.44 192.50,773.77 Z" fill="#6dbf48"/>
<path d="M194.85,772.93 C194.82,771.68 195.24,770.03 196.00,768.71 C196.77,767.39 197.87,766.23 199.46,765.00 C201.05,763.76 203.82,762.30 205.54,761.28 C207.26,760.27 208.90,759.08 209.76,758.92 C210.63,758.76 210.72,759.31 210.72,760.32 C210.72,761.34 210.31,763.28 209.76,765.00 C209.22,766.71 208.47,768.84 207.46,770.63 C206.45,772.42 205.02,774.59 203.68,775.75 C202.35,776.91 200.71,777.53 199.46,777.60 C198.21,777.68 196.96,776.97 196.20,776.20 C195.43,775.42 194.88,774.18 194.85,772.93 Z" fill="#88c740"/>
<path d="M196.35,772.40 C196.32,771.42 196.65,770.13 197.25,769.10 C197.85,768.07 198.71,767.17 199.95,766.20 C201.19,765.23 203.36,764.09 204.70,763.30 C206.04,762.51 207.32,761.58 208.00,761.45 C208.68,761.33 208.75,761.76 208.75,762.55 C208.75,763.34 208.43,764.86 208.00,766.20 C207.57,767.54 206.99,769.20 206.20,770.60 C205.41,772.00 204.29,773.69 203.25,774.60 C202.21,775.51 200.92,775.99 199.95,776.05 C198.97,776.11 198.00,775.56 197.40,774.95 C196.80,774.34 196.38,773.38 196.35,772.40 Z" fill="#ebe02c"/>
<path d="M197.31,772.06 C197.29,771.26 197.56,770.20 198.05,769.35 C198.54,768.50 199.25,767.77 200.26,766.97 C201.28,766.18 203.06,765.25 204.16,764.60 C205.26,763.95 206.31,763.18 206.87,763.08 C207.42,762.98 207.48,763.33 207.48,763.98 C207.48,764.63 207.21,765.87 206.87,766.97 C206.52,768.07 206.04,769.43 205.39,770.58 C204.74,771.73 203.83,773.12 202.97,773.86 C202.12,774.61 201.06,775.00 200.26,775.05 C199.47,775.10 198.67,774.65 198.17,774.15 C197.68,773.65 197.33,772.86 197.31,772.06 Z" fill="#f5a822"/>
<path d="M198.17,771.75 C198.15,771.11 198.37,770.26 198.76,769.58 C199.16,768.89 199.73,768.30 200.54,767.66 C201.36,767.02 202.79,766.27 203.68,765.75 C204.57,765.23 205.41,764.61 205.86,764.53 C206.30,764.44 206.35,764.73 206.35,765.25 C206.35,765.78 206.14,766.78 205.86,767.66 C205.58,768.55 205.19,769.64 204.67,770.57 C204.15,771.49 203.41,772.61 202.72,773.21 C202.04,773.81 201.19,774.12 200.54,774.16 C199.90,774.20 199.26,773.84 198.86,773.44 C198.47,773.04 198.19,772.40 198.17,771.75 Z" fill="#e83a1f"/>
<path d="M198.92,771.49 C198.90,770.98 199.07,770.31 199.39,769.77 C199.70,769.23 200.14,768.77 200.79,768.26 C201.44,767.76 202.56,767.17 203.26,766.76 C203.96,766.34 204.62,765.86 204.98,765.79 C205.33,765.73 205.37,765.95 205.37,766.37 C205.37,766.78 205.20,767.57 204.98,768.26 C204.75,768.96 204.45,769.82 204.04,770.55 C203.63,771.28 203.05,772.16 202.51,772.63 C201.96,773.10 201.30,773.36 200.79,773.39 C200.28,773.42 199.78,773.13 199.46,772.81 C199.15,772.50 198.93,771.99 198.92,771.49 Z" fill="#e52320"/>
</g></g>
<rect x="155.20" y="649.30" width="143.00" height="141.80" fill="none" stroke="#444" stroke-width="0.9"/>
<line x1="155.20" y1="648.80" x2="155.20" y2="791.60" stroke="#111" stroke-width="1.7"/>
<line x1="154.70" y1="791.10" x2="298.60" y2="791.10" stroke="#111" stroke-width="1.7"/>
<line x1="224.60" y1="649.30" x2="224.60" y2="791.10" stroke="#0c0c0c" stroke-width="2.3"/>
<line x1="155.20" y1="743.00" x2="298.20" y2="743.00" stroke="#0c0c0c" stroke-width="2.3"/>
<line x1="151.40" y1="649.50" x2="155.20" y2="649.50" stroke="#111" stroke-width="2.6"/>
<line x1="153.00" y1="668.72" x2="155.20" y2="668.72" stroke="#222" stroke-width="1.2"/>
<line x1="153.00" y1="663.88" x2="155.20" y2="663.88" stroke="#222" stroke-width="1.2"/>
<line x1="153.00" y1="660.44" x2="155.20" y2="660.44" stroke="#222" stroke-width="1.2"/>
<line x1="153.00" y1="657.78" x2="155.20" y2="657.78" stroke="#222" stroke-width="1.2"/>
<line x1="153.00" y1="655.60" x2="155.20" y2="655.60" stroke="#222" stroke-width="1.2"/>
<line x1="153.00" y1="653.76" x2="155.20" y2="653.76" stroke="#222" stroke-width="1.2"/>
<line x1="153.00" y1="652.17" x2="155.20" y2="652.17" stroke="#222" stroke-width="1.2"/>
<line x1="153.00" y1="650.76" x2="155.20" y2="650.76" stroke="#222" stroke-width="1.2"/>
<line x1="151.40" y1="677.00" x2="155.20" y2="677.00" stroke="#111" stroke-width="2.6"/>
<line x1="153.00" y1="696.78" x2="155.20" y2="696.78" stroke="#222" stroke-width="1.2"/>
<line x1="153.00" y1="691.80" x2="155.20" y2="691.80" stroke="#222" stroke-width="1.2"/>
<line x1="153.00" y1="688.26" x2="155.20" y2="688.26" stroke="#222" stroke-width="1.2"/>
<line x1="153.00" y1="685.52" x2="155.20" y2="685.52" stroke="#222" stroke-width="1.2"/>
<line x1="153.00" y1="683.28" x2="155.20" y2="683.28" stroke="#222" stroke-width="1.2"/>
<line x1="153.00" y1="681.38" x2="155.20" y2="681.38" stroke="#222" stroke-width="1.2"/>
<line x1="153.00" y1="679.74" x2="155.20" y2="679.74" stroke="#222" stroke-width="1.2"/>
<line x1="153.00" y1="678.29" x2="155.20" y2="678.29" stroke="#222" stroke-width="1.2"/>
<line x1="151.40" y1="705.30" x2="155.20" y2="705.30" stroke="#111" stroke-width="2.6"/>
<line x1="153.00" y1="726.06" x2="155.20" y2="726.06" stroke="#222" stroke-width="1.2"/>
<line x1="153.00" y1="720.83" x2="155.20" y2="720.83" stroke="#222" stroke-width="1.2"/>
<line x1="153.00" y1="717.12" x2="155.20" y2="717.12" stroke="#222" stroke-width="1.2"/>
<line x1="153.00" y1="714.24" x2="155.20" y2="714.24" stroke="#222" stroke-width="1.2"/>
<line x1="153.00" y1="711.89" x2="155.20" y2="711.89" stroke="#222" stroke-width="1.2"/>
<line x1="153.00" y1="709.90" x2="155.20" y2="709.90" stroke="#222" stroke-width="1.2"/>
<line x1="153.00" y1="708.18" x2="155.20" y2="708.18" stroke="#222" stroke-width="1.2"/>
<line x1="153.00" y1="706.66" x2="155.20" y2="706.66" stroke="#222" stroke-width="1.2"/>
<line x1="151.40" y1="735.00" x2="155.20" y2="735.00" stroke="#111" stroke-width="2.6"/>
<line x1="153.00" y1="755.83" x2="155.20" y2="755.83" stroke="#222" stroke-width="1.2"/>
<line x1="153.00" y1="750.58" x2="155.20" y2="750.58" stroke="#222" stroke-width="1.2"/>
<line x1="153.00" y1="746.86" x2="155.20" y2="746.86" stroke="#222" stroke-width="1.2"/>
<line x1="153.00" y1="743.97" x2="155.20" y2="743.97" stroke="#222" stroke-width="1.2"/>
<line x1="153.00" y1="741.61" x2="155.20" y2="741.61" stroke="#222" stroke-width="1.2"/>
<line x1="153.00" y1="739.62" x2="155.20" y2="739.62" stroke="#222" stroke-width="1.2"/>
<line x1="153.00" y1="737.89" x2="155.20" y2="737.89" stroke="#222" stroke-width="1.2"/>
<line x1="153.00" y1="736.36" x2="155.20" y2="736.36" stroke="#222" stroke-width="1.2"/>
<line x1="151.40" y1="764.80" x2="155.20" y2="764.80" stroke="#111" stroke-width="2.6"/>
<line x1="151.60" y1="770.80" x2="155.20" y2="770.80" stroke="#111" stroke-width="1.6"/>
<line x1="151.00" y1="775.90" x2="155.20" y2="775.90" stroke="#111" stroke-width="3.5"/>
<line x1="151.60" y1="782.00" x2="155.20" y2="782.00" stroke="#111" stroke-width="1.8"/>
<line x1="151.40" y1="787.90" x2="155.20" y2="787.90" stroke="#111" stroke-width="2.2"/>
<line x1="206.60" y1="791.10" x2="206.60" y2="794.90" stroke="#111" stroke-width="2.6"/>
<line x1="187.45" y1="791.10" x2="187.45" y2="793.30" stroke="#222" stroke-width="1.2"/>
<line x1="192.27" y1="791.10" x2="192.27" y2="793.30" stroke="#222" stroke-width="1.2"/>
<line x1="195.70" y1="791.10" x2="195.70" y2="793.30" stroke="#222" stroke-width="1.2"/>
<line x1="198.35" y1="791.10" x2="198.35" y2="793.30" stroke="#222" stroke-width="1.2"/>
<line x1="200.52" y1="791.10" x2="200.52" y2="793.30" stroke="#222" stroke-width="1.2"/>
<line x1="202.36" y1="791.10" x2="202.36" y2="793.30" stroke="#222" stroke-width="1.2"/>
<line x1="203.94" y1="791.10" x2="203.94" y2="793.30" stroke="#222" stroke-width="1.2"/>
<line x1="205.35" y1="791.10" x2="205.35" y2="793.30" stroke="#222" stroke-width="1.2"/>
<line x1="233.00" y1="791.10" x2="233.00" y2="794.90" stroke="#111" stroke-width="2.6"/>
<line x1="214.55" y1="791.10" x2="214.55" y2="793.30" stroke="#222" stroke-width="1.2"/>
<line x1="219.20" y1="791.10" x2="219.20" y2="793.30" stroke="#222" stroke-width="1.2"/>
<line x1="222.49" y1="791.10" x2="222.49" y2="793.30" stroke="#222" stroke-width="1.2"/>
<line x1="225.05" y1="791.10" x2="225.05" y2="793.30" stroke="#222" stroke-width="1.2"/>
<line x1="227.14" y1="791.10" x2="227.14" y2="793.30" stroke="#222" stroke-width="1.2"/>
<line x1="228.91" y1="791.10" x2="228.91" y2="793.30" stroke="#222" stroke-width="1.2"/>
<line x1="230.44" y1="791.10" x2="230.44" y2="793.30" stroke="#222" stroke-width="1.2"/>
<line x1="231.79" y1="791.10" x2="231.79" y2="793.30" stroke="#222" stroke-width="1.2"/>
<line x1="259.50" y1="791.10" x2="259.50" y2="794.90" stroke="#111" stroke-width="2.6"/>
<line x1="240.98" y1="791.10" x2="240.98" y2="793.30" stroke="#222" stroke-width="1.2"/>
<line x1="245.64" y1="791.10" x2="245.64" y2="793.30" stroke="#222" stroke-width="1.2"/>
<line x1="248.95" y1="791.10" x2="248.95" y2="793.30" stroke="#222" stroke-width="1.2"/>
<line x1="251.52" y1="791.10" x2="251.52" y2="793.30" stroke="#222" stroke-width="1.2"/>
<line x1="253.62" y1="791.10" x2="253.62" y2="793.30" stroke="#222" stroke-width="1.2"/>
<line x1="255.40" y1="791.10" x2="255.40" y2="793.30" stroke="#222" stroke-width="1.2"/>
<line x1="256.93" y1="791.10" x2="256.93" y2="793.30" stroke="#222" stroke-width="1.2"/>
<line x1="258.29" y1="791.10" x2="258.29" y2="793.30" stroke="#222" stroke-width="1.2"/>
<line x1="286.00" y1="791.10" x2="286.00" y2="794.90" stroke="#111" stroke-width="2.6"/>
<line x1="267.48" y1="791.10" x2="267.48" y2="793.30" stroke="#222" stroke-width="1.2"/>
<line x1="272.14" y1="791.10" x2="272.14" y2="793.30" stroke="#222" stroke-width="1.2"/>
<line x1="275.45" y1="791.10" x2="275.45" y2="793.30" stroke="#222" stroke-width="1.2"/>
<line x1="278.02" y1="791.10" x2="278.02" y2="793.30" stroke="#222" stroke-width="1.2"/>
<line x1="280.12" y1="791.10" x2="280.12" y2="793.30" stroke="#222" stroke-width="1.2"/>
<line x1="281.90" y1="791.10" x2="281.90" y2="793.30" stroke="#222" stroke-width="1.2"/>
<line x1="283.43" y1="791.10" x2="283.43" y2="793.30" stroke="#222" stroke-width="1.2"/>
<line x1="284.79" y1="791.10" x2="284.79" y2="793.30" stroke="#222" stroke-width="1.2"/>
<rect x="157.00" y="791.10" width="22.20" height="2.60" fill="#111" stroke="none" stroke-width="0"/>
<line x1="157.70" y1="791.10" x2="157.70" y2="794.70" stroke="#111" stroke-width="2.2"/>
<line x1="165.70" y1="791.10" x2="165.70" y2="794.70" stroke="#111" stroke-width="2.2"/>
<line x1="171.60" y1="791.10" x2="171.60" y2="794.70" stroke="#111" stroke-width="2.2"/>
<line x1="178.20" y1="791.10" x2="178.20" y2="794.70" stroke="#111" stroke-width="2.2"/>
<text x="148.70" y="659.40" font-size="6.9" text-anchor="end" fill="#2a2a2a">10<tspan dy="-3" font-size="4.8">6</tspan></text>
<text x="148.70" y="682.50" font-size="6.9" text-anchor="end" fill="#2a2a2a">10<tspan dy="-3" font-size="4.8">5</tspan></text>
<text x="148.70" y="709.30" font-size="6.9" text-anchor="end" fill="#2a2a2a">10<tspan dy="-3" font-size="4.8">4</tspan></text>
<text x="148.70" y="739.00" font-size="6.9" text-anchor="end" fill="#2a2a2a">10<tspan dy="-3" font-size="4.8">3</tspan></text>
<text x="148.70" y="769.50" font-size="6.9" text-anchor="end" fill="#2a2a2a">10<tspan dy="-3" font-size="4.8">2</tspan></text>
<text x="145.90" y="780.70" font-size="6.9" text-anchor="end" font-weight="normal" fill="#2a2a2a" >0</text>
<text x="171.60" y="804.30" font-size="6.9" text-anchor="middle" font-weight="normal" fill="#2a2a2a" >0</text>
<text x="208.10" y="804.30" font-size="6.9" text-anchor="middle" fill="#2a2a2a">10<tspan dy="-3" font-size="4.8">3</tspan></text>
<text x="234.50" y="804.30" font-size="6.9" text-anchor="middle" fill="#2a2a2a">10<tspan dy="-3" font-size="4.8">4</tspan></text>
<text x="261.00" y="804.30" font-size="6.9" text-anchor="middle" fill="#2a2a2a">10<tspan dy="-3" font-size="4.8">5</tspan></text>
<text x="287.50" y="804.30" font-size="6.9" text-anchor="middle" fill="#2a2a2a">10<tspan dy="-3" font-size="4.8">6</tspan></text>
<text x="232.70" y="814.30" font-size="8.4" text-anchor="middle" font-weight="normal" fill="#2a2a2a" >FL1-A :: EGFP-A</text>
<text transform="translate(133.70,713.30) rotate(-90)" font-size="8.4" text-anchor="middle" fill="#2a2a2a">FL3-A :: mRFP1-A</text>
<text x="223.50" y="641.90" font-size="10.6" text-anchor="middle" font-weight="normal" fill="#2a2a2a" >RAW264.7 (no reporter)</text>
<text x="158.20" y="661.20" font-size="6.2" text-anchor="start" font-weight="normal" fill="#2a2a2a" >Q1</text>
<text x="158.20" y="669.80" font-size="6.2" text-anchor="start" font-weight="normal" fill="#2a2a2a" >0.029</text>
<text x="284.80" y="661.20" font-size="6.2" text-anchor="end" font-weight="normal" fill="#2a2a2a" >Q2</text>
<text x="284.80" y="669.80" font-size="6.2" text-anchor="end" font-weight="normal" fill="#2a2a2a" >9.56E-3</text>
<text x="158.20" y="775.30" font-size="6.2" text-anchor="start" font-weight="normal" fill="#2a2a2a" >Q4</text>
<text x="158.20" y="784.20" font-size="6.2" text-anchor="start" font-weight="normal" fill="#2a2a2a" >100.0</text>
<text x="284.80" y="775.30" font-size="6.2" text-anchor="end" font-weight="normal" fill="#2a2a2a" >Q3</text>
<text x="284.80" y="784.20" font-size="6.2" text-anchor="end" font-weight="normal" fill="#2a2a2a" >9.56E-3</text>
<rect x="334.90" y="649.30" width="142.20" height="141.80" fill="#fdfdfe" stroke="none" stroke-width="0"/>
<clipPath id="bc2"><path d="M371.60,752.00 C371.82,748.38 372.42,740.57 373.50,736.30 C374.58,732.03 375.90,729.58 378.10,726.40 C380.30,723.22 383.85,719.33 386.70,717.20 C389.55,715.07 393.02,713.92 395.20,713.60 C397.38,713.28 398.65,713.72 399.80,715.30 C400.95,716.88 401.65,720.15 402.10,723.10 C402.55,726.05 402.77,729.48 402.50,733.00 C402.23,736.52 401.60,740.37 400.50,744.20 C399.40,748.03 397.22,752.93 395.90,756.00 C394.58,759.07 394.13,760.52 392.60,762.60 C391.07,764.68 388.57,767.30 386.70,768.50 C384.83,769.70 383.27,770.57 381.40,769.80 C379.53,769.03 377.03,765.87 375.50,763.90 C373.97,761.93 372.85,759.98 372.20,758.00 C371.55,756.02 371.38,755.62 371.60,752.00 Z"/></clipPath>
<path d="M371.60,752.00 C371.82,748.38 372.42,740.57 373.50,736.30 C374.58,732.03 375.90,729.58 378.10,726.40 C380.30,723.22 383.85,719.33 386.70,717.20 C389.55,715.07 393.02,713.92 395.20,713.60 C397.38,713.28 398.65,713.72 399.80,715.30 C400.95,716.88 401.65,720.15 402.10,723.10 C402.55,726.05 402.77,729.48 402.50,733.00 C402.23,736.52 401.60,740.37 400.50,744.20 C399.40,748.03 397.22,752.93 395.90,756.00 C394.58,759.07 394.13,760.52 392.60,762.60 C391.07,764.68 388.57,767.30 386.70,768.50 C384.83,769.70 383.27,770.57 381.40,769.80 C379.53,769.03 377.03,765.87 375.50,763.90 C373.97,761.93 372.85,759.98 372.20,758.00 C371.55,756.02 371.38,755.62 371.60,752.00 Z" fill="#2d4fa4"/>
<g clip-path="url(#bc2)"><g filter="url(#bl)">
<path d="M375.73,752.70 C375.73,748.74 375.50,741.12 376.60,736.32 C377.70,731.53 379.75,727.24 382.35,723.95 C384.95,720.66 389.62,717.26 392.23,716.58 C394.83,715.89 396.89,717.22 397.97,719.83 C399.06,722.43 399.14,727.26 398.73,732.20 C398.31,737.14 397.10,744.39 395.47,749.45 C393.85,754.51 391.31,760.12 388.97,762.57 C386.64,765.03 383.54,764.62 381.47,764.20 C379.41,763.78 377.56,761.99 376.60,760.07 C375.64,758.16 375.73,756.66 375.73,752.70 Z" fill="#2f5cb2"/>
<path d="M376.96,750.98 C376.96,747.44 376.75,740.61 377.74,736.31 C378.73,732.02 380.56,728.17 382.90,725.22 C385.23,722.27 389.41,719.23 391.74,718.62 C394.08,718.00 395.93,719.19 396.90,721.53 C397.87,723.86 397.94,728.19 397.57,732.62 C397.19,737.04 396.11,743.54 394.66,748.07 C393.20,752.61 390.92,757.63 388.83,759.83 C386.74,762.03 383.96,761.66 382.11,761.29 C380.26,760.91 378.60,759.31 377.74,757.59 C376.89,755.87 376.96,754.53 376.96,750.98 Z" fill="#3a8ad3"/>
<path d="M378.10,749.40 C378.10,746.23 377.92,740.13 378.80,736.30 C379.68,732.47 381.32,729.03 383.40,726.40 C385.48,723.77 389.22,721.05 391.30,720.50 C393.38,719.95 395.03,721.02 395.90,723.10 C396.77,725.18 396.83,729.05 396.50,733.00 C396.17,736.95 395.20,742.75 393.90,746.80 C392.60,750.85 390.57,755.33 388.70,757.30 C386.83,759.27 384.35,758.93 382.70,758.60 C381.05,758.27 379.57,756.83 378.80,755.30 C378.03,753.77 378.10,752.57 378.10,749.40 Z" fill="#44c4ee"/>
<path d="M378.77,748.48 C378.77,745.53 378.59,739.86 379.42,736.29 C380.24,732.73 381.76,729.53 383.69,727.09 C385.63,724.64 389.10,722.11 391.04,721.60 C392.98,721.09 394.51,722.08 395.32,724.02 C396.12,725.95 396.19,729.55 395.88,733.22 C395.57,736.90 394.67,742.29 393.46,746.06 C392.25,749.82 390.36,753.99 388.62,755.82 C386.89,757.65 384.58,757.34 383.04,757.03 C381.51,756.72 380.13,755.39 379.42,753.96 C378.70,752.54 378.77,751.42 378.77,748.48 Z" fill="#52c4c0"/>
<path d="M379.43,747.55 C379.43,744.83 379.27,739.58 380.03,736.29 C380.79,732.99 382.20,730.04 383.99,727.77 C385.78,725.51 388.99,723.17 390.78,722.70 C392.57,722.23 393.99,723.14 394.74,724.93 C395.48,726.73 395.54,730.05 395.25,733.45 C394.97,736.85 394.14,741.83 393.02,745.32 C391.90,748.80 390.15,752.65 388.55,754.35 C386.94,756.04 384.80,755.75 383.39,755.46 C381.97,755.18 380.69,753.94 380.03,752.63 C379.37,751.31 379.43,750.28 379.43,747.55 Z" fill="#6dbf48"/>
<path d="M381.52,744.65 C381.52,742.62 381.40,738.72 381.97,736.26 C382.53,733.81 383.58,731.61 384.91,729.93 C386.25,728.24 388.63,726.50 389.97,726.15 C391.30,725.80 392.36,726.48 392.91,727.82 C393.47,729.15 393.51,731.62 393.30,734.15 C393.08,736.68 392.46,740.39 391.63,742.98 C390.80,745.58 389.50,748.45 388.30,749.70 C387.11,750.96 385.52,750.75 384.46,750.54 C383.41,750.32 382.46,749.41 381.97,748.42 C381.48,747.44 381.52,746.67 381.52,744.65 Z" fill="#88c740"/>
<path d="M382.85,742.80 C382.85,741.22 382.76,738.17 383.20,736.25 C383.64,734.33 384.46,732.62 385.50,731.30 C386.54,729.98 388.41,728.62 389.45,728.35 C390.49,728.08 391.32,728.61 391.75,729.65 C392.18,730.69 392.22,732.62 392.05,734.60 C391.88,736.58 391.40,739.48 390.75,741.50 C390.10,743.52 389.08,745.77 388.15,746.75 C387.22,747.73 385.97,747.57 385.15,747.40 C384.32,747.23 383.58,746.52 383.20,745.75 C382.82,744.98 382.85,744.38 382.85,742.80 Z" fill="#ebe02c"/>
<path d="M383.71,741.61 C383.71,740.31 383.63,737.81 383.99,736.24 C384.35,734.67 385.02,733.26 385.88,732.18 C386.73,731.10 388.26,729.99 389.12,729.76 C389.97,729.54 390.65,729.97 391.00,730.83 C391.36,731.68 391.39,733.27 391.25,734.89 C391.11,736.51 390.72,738.89 390.18,740.55 C389.65,742.21 388.82,744.04 388.05,744.85 C387.29,745.66 386.27,745.52 385.59,745.38 C384.91,745.25 384.31,744.66 383.99,744.03 C383.68,743.40 383.71,742.91 383.71,741.61 Z" fill="#f5a822"/>
<path d="M384.47,740.56 C384.47,739.51 384.40,737.50 384.70,736.23 C384.99,734.97 385.53,733.84 386.21,732.97 C386.90,732.10 388.13,731.20 388.82,731.02 C389.51,730.84 390.05,731.19 390.34,731.88 C390.62,732.56 390.65,733.84 390.54,735.14 C390.43,736.45 390.11,738.36 389.68,739.70 C389.25,741.03 388.58,742.51 387.96,743.16 C387.35,743.81 386.53,743.70 385.98,743.59 C385.44,743.48 384.95,743.01 384.70,742.50 C384.44,742.00 384.47,741.60 384.47,740.56 Z" fill="#e83a1f"/>
<path d="M385.13,739.63 C385.13,738.81 385.08,737.22 385.31,736.23 C385.54,735.23 385.97,734.34 386.51,733.65 C387.05,732.97 388.02,732.26 388.56,732.12 C389.10,731.98 389.53,732.25 389.76,732.79 C389.98,733.34 390.00,734.34 389.91,735.37 C389.83,736.39 389.58,737.90 389.24,738.96 C388.90,740.01 388.37,741.17 387.89,741.69 C387.40,742.20 386.75,742.11 386.33,742.02 C385.90,741.94 385.51,741.56 385.31,741.17 C385.11,740.77 385.13,740.46 385.13,739.63 Z" fill="#e52320"/>
</g></g>
<rect x="334.90" y="649.30" width="142.20" height="141.80" fill="none" stroke="#444" stroke-width="0.9"/>
<line x1="334.90" y1="648.80" x2="334.90" y2="791.60" stroke="#111" stroke-width="1.7"/>
<line x1="334.40" y1="791.10" x2="477.50" y2="791.10" stroke="#111" stroke-width="1.7"/>
<line x1="403.40" y1="649.30" x2="403.40" y2="791.10" stroke="#0c0c0c" stroke-width="2.3"/>
<line x1="334.90" y1="742.80" x2="477.10" y2="742.80" stroke="#0c0c0c" stroke-width="2.3"/>
<line x1="331.10" y1="649.50" x2="334.90" y2="649.50" stroke="#111" stroke-width="2.6"/>
<line x1="332.70" y1="668.72" x2="334.90" y2="668.72" stroke="#222" stroke-width="1.2"/>
<line x1="332.70" y1="663.88" x2="334.90" y2="663.88" stroke="#222" stroke-width="1.2"/>
<line x1="332.70" y1="660.44" x2="334.90" y2="660.44" stroke="#222" stroke-width="1.2"/>
<line x1="332.70" y1="657.78" x2="334.90" y2="657.78" stroke="#222" stroke-width="1.2"/>
<line x1="332.70" y1="655.60" x2="334.90" y2="655.60" stroke="#222" stroke-width="1.2"/>
<line x1="332.70" y1="653.76" x2="334.90" y2="653.76" stroke="#222" stroke-width="1.2"/>
<line x1="332.70" y1="652.17" x2="334.90" y2="652.17" stroke="#222" stroke-width="1.2"/>
<line x1="332.70" y1="650.76" x2="334.90" y2="650.76" stroke="#222" stroke-width="1.2"/>
<line x1="331.10" y1="677.00" x2="334.90" y2="677.00" stroke="#111" stroke-width="2.6"/>
<line x1="332.70" y1="696.78" x2="334.90" y2="696.78" stroke="#222" stroke-width="1.2"/>
<line x1="332.70" y1="691.80" x2="334.90" y2="691.80" stroke="#222" stroke-width="1.2"/>
<line x1="332.70" y1="688.26" x2="334.90" y2="688.26" stroke="#222" stroke-width="1.2"/>
<line x1="332.70" y1="685.52" x2="334.90" y2="685.52" stroke="#222" stroke-width="1.2"/>
<line x1="332.70" y1="683.28" x2="334.90" y2="683.28" stroke="#222" stroke-width="1.2"/>
<line x1="332.70" y1="681.38" x2="334.90" y2="681.38" stroke="#222" stroke-width="1.2"/>
<line x1="332.70" y1="679.74" x2="334.90" y2="679.74" stroke="#222" stroke-width="1.2"/>
<line x1="332.70" y1="678.29" x2="334.90" y2="678.29" stroke="#222" stroke-width="1.2"/>
<line x1="331.10" y1="705.30" x2="334.90" y2="705.30" stroke="#111" stroke-width="2.6"/>
<line x1="332.70" y1="726.06" x2="334.90" y2="726.06" stroke="#222" stroke-width="1.2"/>
<line x1="332.70" y1="720.83" x2="334.90" y2="720.83" stroke="#222" stroke-width="1.2"/>
<line x1="332.70" y1="717.12" x2="334.90" y2="717.12" stroke="#222" stroke-width="1.2"/>
<line x1="332.70" y1="714.24" x2="334.90" y2="714.24" stroke="#222" stroke-width="1.2"/>
<line x1="332.70" y1="711.89" x2="334.90" y2="711.89" stroke="#222" stroke-width="1.2"/>
<line x1="332.70" y1="709.90" x2="334.90" y2="709.90" stroke="#222" stroke-width="1.2"/>
<line x1="332.70" y1="708.18" x2="334.90" y2="708.18" stroke="#222" stroke-width="1.2"/>
<line x1="332.70" y1="706.66" x2="334.90" y2="706.66" stroke="#222" stroke-width="1.2"/>
<line x1="331.10" y1="735.00" x2="334.90" y2="735.00" stroke="#111" stroke-width="2.6"/>
<line x1="332.70" y1="755.83" x2="334.90" y2="755.83" stroke="#222" stroke-width="1.2"/>
<line x1="332.70" y1="750.58" x2="334.90" y2="750.58" stroke="#222" stroke-width="1.2"/>
<line x1="332.70" y1="746.86" x2="334.90" y2="746.86" stroke="#222" stroke-width="1.2"/>
<line x1="332.70" y1="743.97" x2="334.90" y2="743.97" stroke="#222" stroke-width="1.2"/>
<line x1="332.70" y1="741.61" x2="334.90" y2="741.61" stroke="#222" stroke-width="1.2"/>
<line x1="332.70" y1="739.62" x2="334.90" y2="739.62" stroke="#222" stroke-width="1.2"/>
<line x1="332.70" y1="737.89" x2="334.90" y2="737.89" stroke="#222" stroke-width="1.2"/>
<line x1="332.70" y1="736.36" x2="334.90" y2="736.36" stroke="#222" stroke-width="1.2"/>
<line x1="331.10" y1="764.80" x2="334.90" y2="764.80" stroke="#111" stroke-width="2.6"/>
<line x1="331.30" y1="770.80" x2="334.90" y2="770.80" stroke="#111" stroke-width="1.6"/>
<line x1="330.70" y1="775.90" x2="334.90" y2="775.90" stroke="#111" stroke-width="3.5"/>
<line x1="331.30" y1="782.00" x2="334.90" y2="782.00" stroke="#111" stroke-width="1.8"/>
<line x1="331.10" y1="787.90" x2="334.90" y2="787.90" stroke="#111" stroke-width="2.2"/>
<line x1="386.30" y1="791.10" x2="386.30" y2="794.90" stroke="#111" stroke-width="2.6"/>
<line x1="367.15" y1="791.10" x2="367.15" y2="793.30" stroke="#222" stroke-width="1.2"/>
<line x1="371.97" y1="791.10" x2="371.97" y2="793.30" stroke="#222" stroke-width="1.2"/>
<line x1="375.40" y1="791.10" x2="375.40" y2="793.30" stroke="#222" stroke-width="1.2"/>
<line x1="378.05" y1="791.10" x2="378.05" y2="793.30" stroke="#222" stroke-width="1.2"/>
<line x1="380.22" y1="791.10" x2="380.22" y2="793.30" stroke="#222" stroke-width="1.2"/>
<line x1="382.06" y1="791.10" x2="382.06" y2="793.30" stroke="#222" stroke-width="1.2"/>
<line x1="383.64" y1="791.10" x2="383.64" y2="793.30" stroke="#222" stroke-width="1.2"/>
<line x1="385.05" y1="791.10" x2="385.05" y2="793.30" stroke="#222" stroke-width="1.2"/>
<line x1="412.70" y1="791.10" x2="412.70" y2="794.90" stroke="#111" stroke-width="2.6"/>
<line x1="394.25" y1="791.10" x2="394.25" y2="793.30" stroke="#222" stroke-width="1.2"/>
<line x1="398.90" y1="791.10" x2="398.90" y2="793.30" stroke="#222" stroke-width="1.2"/>
<line x1="402.19" y1="791.10" x2="402.19" y2="793.30" stroke="#222" stroke-width="1.2"/>
<line x1="404.75" y1="791.10" x2="404.75" y2="793.30" stroke="#222" stroke-width="1.2"/>
<line x1="406.84" y1="791.10" x2="406.84" y2="793.30" stroke="#222" stroke-width="1.2"/>
<line x1="408.61" y1="791.10" x2="408.61" y2="793.30" stroke="#222" stroke-width="1.2"/>
<line x1="410.14" y1="791.10" x2="410.14" y2="793.30" stroke="#222" stroke-width="1.2"/>
<line x1="411.49" y1="791.10" x2="411.49" y2="793.30" stroke="#222" stroke-width="1.2"/>
<line x1="439.20" y1="791.10" x2="439.20" y2="794.90" stroke="#111" stroke-width="2.6"/>
<line x1="420.68" y1="791.10" x2="420.68" y2="793.30" stroke="#222" stroke-width="1.2"/>
<line x1="425.34" y1="791.10" x2="425.34" y2="793.30" stroke="#222" stroke-width="1.2"/>
<line x1="428.65" y1="791.10" x2="428.65" y2="793.30" stroke="#222" stroke-width="1.2"/>
<line x1="431.22" y1="791.10" x2="431.22" y2="793.30" stroke="#222" stroke-width="1.2"/>
<line x1="433.32" y1="791.10" x2="433.32" y2="793.30" stroke="#222" stroke-width="1.2"/>
<line x1="435.10" y1="791.10" x2="435.10" y2="793.30" stroke="#222" stroke-width="1.2"/>
<line x1="436.63" y1="791.10" x2="436.63" y2="793.30" stroke="#222" stroke-width="1.2"/>
<line x1="437.99" y1="791.10" x2="437.99" y2="793.30" stroke="#222" stroke-width="1.2"/>
<line x1="465.70" y1="791.10" x2="465.70" y2="794.90" stroke="#111" stroke-width="2.6"/>
<line x1="447.18" y1="791.10" x2="447.18" y2="793.30" stroke="#222" stroke-width="1.2"/>
<line x1="451.84" y1="791.10" x2="451.84" y2="793.30" stroke="#222" stroke-width="1.2"/>
<line x1="455.15" y1="791.10" x2="455.15" y2="793.30" stroke="#222" stroke-width="1.2"/>
<line x1="457.72" y1="791.10" x2="457.72" y2="793.30" stroke="#222" stroke-width="1.2"/>
<line x1="459.82" y1="791.10" x2="459.82" y2="793.30" stroke="#222" stroke-width="1.2"/>
<line x1="461.60" y1="791.10" x2="461.60" y2="793.30" stroke="#222" stroke-width="1.2"/>
<line x1="463.13" y1="791.10" x2="463.13" y2="793.30" stroke="#222" stroke-width="1.2"/>
<line x1="464.49" y1="791.10" x2="464.49" y2="793.30" stroke="#222" stroke-width="1.2"/>
<rect x="336.70" y="791.10" width="22.20" height="2.60" fill="#111" stroke="none" stroke-width="0"/>
<line x1="337.40" y1="791.10" x2="337.40" y2="794.70" stroke="#111" stroke-width="2.2"/>
<line x1="345.40" y1="791.10" x2="345.40" y2="794.70" stroke="#111" stroke-width="2.2"/>
<line x1="351.30" y1="791.10" x2="351.30" y2="794.70" stroke="#111" stroke-width="2.2"/>
<line x1="357.90" y1="791.10" x2="357.90" y2="794.70" stroke="#111" stroke-width="2.2"/>
<text x="328.40" y="659.40" font-size="6.9" text-anchor="end" fill="#2a2a2a">10<tspan dy="-3" font-size="4.8">6</tspan></text>
<text x="328.40" y="682.50" font-size="6.9" text-anchor="end" fill="#2a2a2a">10<tspan dy="-3" font-size="4.8">5</tspan></text>
<text x="328.40" y="709.30" font-size="6.9" text-anchor="end" fill="#2a2a2a">10<tspan dy="-3" font-size="4.8">4</tspan></text>
<text x="328.40" y="739.00" font-size="6.9" text-anchor="end" fill="#2a2a2a">10<tspan dy="-3" font-size="4.8">3</tspan></text>
<text x="328.40" y="769.50" font-size="6.9" text-anchor="end" fill="#2a2a2a">10<tspan dy="-3" font-size="4.8">2</tspan></text>
<text x="325.60" y="780.70" font-size="6.9" text-anchor="end" font-weight="normal" fill="#2a2a2a" >0</text>
<text x="351.30" y="804.30" font-size="6.9" text-anchor="middle" font-weight="normal" fill="#2a2a2a" >0</text>
<text x="387.80" y="804.30" font-size="6.9" text-anchor="middle" fill="#2a2a2a">10<tspan dy="-3" font-size="4.8">3</tspan></text>
<text x="414.20" y="804.30" font-size="6.9" text-anchor="middle" fill="#2a2a2a">10<tspan dy="-3" font-size="4.8">4</tspan></text>
<text x="440.70" y="804.30" font-size="6.9" text-anchor="middle" fill="#2a2a2a">10<tspan dy="-3" font-size="4.8">5</tspan></text>
<text x="467.20" y="804.30" font-size="6.9" text-anchor="middle" fill="#2a2a2a">10<tspan dy="-3" font-size="4.8">6</tspan></text>
<text x="412.00" y="814.30" font-size="8.4" text-anchor="middle" font-weight="normal" fill="#2a2a2a" >FL1-A :: EGFP-A</text>
<text transform="translate(313.40,713.30) rotate(-90)" font-size="8.4" text-anchor="middle" fill="#2a2a2a">FL3-A :: mRFP1-A</text>
<text x="402.00" y="641.90" font-size="10.6" text-anchor="middle" font-weight="normal" fill="#2a2a2a" >Non-Stimulated</text>
<text x="337.90" y="661.20" font-size="6.2" text-anchor="start" font-weight="normal" fill="#2a2a2a" >Q1</text>
<text x="337.90" y="669.80" font-size="6.2" text-anchor="start" font-weight="normal" fill="#2a2a2a" >67.4</text>
<text x="463.70" y="661.20" font-size="6.2" text-anchor="end" font-weight="normal" fill="#2a2a2a" >Q2</text>
<text x="463.70" y="669.80" font-size="6.2" text-anchor="end" font-weight="normal" fill="#2a2a2a" >0.062</text>
<text x="337.90" y="775.30" font-size="6.2" text-anchor="start" font-weight="normal" fill="#2a2a2a" >Q4</text>
<text x="337.90" y="784.20" font-size="6.2" text-anchor="start" font-weight="normal" fill="#2a2a2a" >32.5</text>
<text x="463.70" y="775.30" font-size="6.2" text-anchor="end" font-weight="normal" fill="#2a2a2a" >Q3</text>
<text x="463.70" y="784.20" font-size="6.2" text-anchor="end" font-weight="normal" fill="#2a2a2a" >0</text>
<rect x="78.40" y="840.50" width="142.40" height="141.90" fill="#fdfdfe" stroke="none" stroke-width="0"/>
<clipPath id="bc3"><path d="M110.60,947.00 C110.95,943.77 111.75,940.53 113.20,936.80 C114.65,933.07 116.75,928.85 119.30,924.60 C121.85,920.35 125.10,914.63 128.50,911.30 C131.90,907.97 135.62,905.53 139.70,904.60 C143.78,903.67 149.25,904.42 153.00,905.70 C156.75,906.98 159.63,910.35 162.20,912.30 C164.77,914.25 167.47,915.35 168.40,917.40 C169.33,919.45 168.83,922.22 167.80,924.60 C166.77,926.98 164.50,929.15 162.20,931.70 C159.90,934.25 156.72,936.83 154.00,939.90 C151.28,942.97 148.78,946.18 145.90,950.10 C143.02,954.02 139.93,960.25 136.70,963.40 C133.47,966.55 129.92,968.83 126.50,969.00 C123.08,969.17 118.77,966.53 116.20,964.40 C113.63,962.27 112.03,959.10 111.10,956.20 C110.17,953.30 110.25,950.23 110.60,947.00 Z"/></clipPath>
<path d="M110.60,947.00 C110.95,943.77 111.75,940.53 113.20,936.80 C114.65,933.07 116.75,928.85 119.30,924.60 C121.85,920.35 125.10,914.63 128.50,911.30 C131.90,907.97 135.62,905.53 139.70,904.60 C143.78,903.67 149.25,904.42 153.00,905.70 C156.75,906.98 159.63,910.35 162.20,912.30 C164.77,914.25 167.47,915.35 168.40,917.40 C169.33,919.45 168.83,922.22 167.80,924.60 C166.77,926.98 164.50,929.15 162.20,931.70 C159.90,934.25 156.72,936.83 154.00,939.90 C151.28,942.97 148.78,946.18 145.90,950.10 C143.02,954.02 139.93,960.25 136.70,963.40 C133.47,966.55 129.92,968.83 126.50,969.00 C123.08,969.17 118.77,966.53 116.20,964.40 C113.63,962.27 112.03,959.10 111.10,956.20 C110.17,953.30 110.25,950.23 110.60,947.00 Z" fill="#2d4fa4"/>
<g clip-path="url(#bc3)"><g filter="url(#bl)">
<path d="M146,912 C156,910 164,915 163,922 C158,930 150,936 146,942 Z" fill="#3568bb"/>
<path d="M114.00,949.75 C114.00,944.85 115.62,937.62 117.75,931.88 C119.88,926.12 123.54,919.29 126.75,915.25 C129.96,911.21 133.60,908.25 137.00,907.62 C140.40,907.00 145.00,908.94 147.12,911.50 C149.25,914.06 149.75,918.10 149.75,923.00 C149.75,927.90 148.83,935.35 147.12,940.88 C145.42,946.40 142.48,952.08 139.50,956.12 C136.52,960.17 132.88,964.27 129.25,965.12 C125.62,965.98 120.29,963.81 117.75,961.25 C115.21,958.69 114.00,954.65 114.00,949.75 Z" fill="#2f5cb2"/>
<path d="M115.72,947.80 C115.72,943.41 117.17,936.94 119.08,931.78 C120.98,926.63 124.27,920.51 127.14,916.89 C130.01,913.27 133.28,910.62 136.32,910.06 C139.37,909.50 143.49,911.23 145.40,913.53 C147.30,915.82 147.75,919.45 147.75,923.83 C147.75,928.22 146.93,934.90 145.40,939.85 C143.87,944.79 141.23,949.89 138.56,953.51 C135.89,957.13 132.63,960.81 129.38,961.58 C126.13,962.34 121.35,960.40 119.08,958.10 C116.80,955.81 115.72,952.19 115.72,947.80 Z" fill="#3a8ad3"/>
<path d="M117.30,946.00 C117.30,942.08 118.60,936.30 120.30,931.70 C122.00,927.10 124.93,921.63 127.50,918.40 C130.07,915.17 132.98,912.80 135.70,912.30 C138.42,911.80 142.10,913.35 143.80,915.40 C145.50,917.45 145.90,920.68 145.90,924.60 C145.90,928.52 145.17,934.48 143.80,938.90 C142.43,943.32 140.08,947.87 137.70,951.10 C135.32,954.33 132.40,957.62 129.50,958.30 C126.60,958.98 122.33,957.25 120.30,955.20 C118.27,953.15 117.30,949.92 117.30,946.00 Z" fill="#44c4ee"/>
<path d="M118.22,944.95 C118.22,941.31 119.43,935.93 121.01,931.65 C122.59,927.37 125.32,922.29 127.71,919.28 C130.10,916.27 132.81,914.07 135.34,913.61 C137.86,913.14 141.29,914.59 142.87,916.49 C144.45,918.40 144.82,921.41 144.82,925.05 C144.82,928.69 144.14,934.24 142.87,938.35 C141.60,942.45 139.41,946.69 137.20,949.69 C134.98,952.70 132.27,955.75 129.57,956.39 C126.87,957.02 122.91,955.41 121.01,953.51 C119.12,951.60 118.22,948.59 118.22,944.95 Z" fill="#52c4c0"/>
<path d="M119.15,943.90 C119.15,940.53 120.27,935.56 121.73,931.60 C123.19,927.65 125.71,922.94 127.92,920.16 C130.13,917.38 132.64,915.35 134.97,914.92 C137.31,914.49 140.48,915.82 141.94,917.58 C143.40,919.35 143.74,922.13 143.74,925.50 C143.74,928.86 143.11,934.00 141.94,937.79 C140.76,941.59 138.74,945.51 136.69,948.29 C134.64,951.07 132.13,953.89 129.64,954.48 C127.15,955.07 123.48,953.58 121.73,951.81 C119.98,950.05 119.15,947.27 119.15,943.90 Z" fill="#6dbf48"/>
<path d="M122.05,940.60 C122.05,938.09 122.88,934.39 123.97,931.45 C125.06,928.50 126.94,925.01 128.58,922.94 C130.22,920.87 132.09,919.35 133.83,919.03 C135.57,918.71 137.92,919.70 139.01,921.02 C140.10,922.33 140.36,924.40 140.36,926.90 C140.36,929.41 139.89,933.23 139.01,936.06 C138.14,938.88 136.63,941.79 135.11,943.86 C133.58,945.93 131.72,948.03 129.86,948.47 C128.00,948.91 125.27,947.80 123.97,946.49 C122.67,945.18 122.05,943.11 122.05,940.60 Z" fill="#88c740"/>
<path d="M123.90,938.50 C123.90,936.54 124.55,933.65 125.40,931.35 C126.25,929.05 127.72,926.32 129.00,924.70 C130.28,923.08 131.74,921.90 133.10,921.65 C134.46,921.40 136.30,922.18 137.15,923.20 C138.00,924.23 138.20,925.84 138.20,927.80 C138.20,929.76 137.83,932.74 137.15,934.95 C136.47,937.16 135.29,939.43 134.10,941.05 C132.91,942.67 131.45,944.31 130.00,944.65 C128.55,944.99 126.42,944.12 125.40,943.10 C124.38,942.08 123.90,940.46 123.90,938.50 Z" fill="#ebe02c"/>
<path d="M125.09,937.15 C125.09,935.54 125.62,933.17 126.32,931.29 C127.02,929.40 128.22,927.16 129.27,925.83 C130.32,924.51 131.52,923.54 132.63,923.33 C133.75,923.13 135.26,923.76 135.95,924.60 C136.65,925.44 136.81,926.77 136.81,928.38 C136.81,929.98 136.51,932.43 135.95,934.24 C135.39,936.05 134.43,937.92 133.45,939.24 C132.47,940.57 131.28,941.91 130.09,942.19 C128.90,942.47 127.15,941.76 126.32,940.92 C125.48,940.08 125.09,938.76 125.09,937.15 Z" fill="#f5a822"/>
<path d="M126.14,935.95 C126.14,934.66 126.57,932.75 127.13,931.23 C127.69,929.71 128.66,927.91 129.51,926.84 C130.36,925.77 131.32,924.99 132.22,924.83 C133.11,924.66 134.33,925.18 134.89,925.85 C135.45,926.53 135.58,927.60 135.58,928.89 C135.58,930.18 135.34,932.15 134.89,933.61 C134.44,935.06 133.66,936.57 132.88,937.63 C132.09,938.70 131.13,939.78 130.17,940.01 C129.21,940.23 127.80,939.66 127.13,938.99 C126.46,938.31 126.14,937.24 126.14,935.95 Z" fill="#e83a1f"/>
<path d="M127.07,934.90 C127.07,933.88 127.41,932.38 127.85,931.18 C128.29,929.99 129.05,928.56 129.72,927.72 C130.39,926.88 131.15,926.27 131.85,926.14 C132.56,926.01 133.52,926.41 133.96,926.94 C134.40,927.48 134.50,928.32 134.50,929.34 C134.50,930.35 134.31,931.91 133.96,933.05 C133.60,934.20 132.99,935.39 132.37,936.23 C131.75,937.07 130.99,937.92 130.24,938.10 C129.49,938.28 128.38,937.83 127.85,937.29 C127.32,936.76 127.07,935.92 127.07,934.90 Z" fill="#e52320"/>
</g></g>
<rect x="78.40" y="840.50" width="142.40" height="141.90" fill="none" stroke="#444" stroke-width="0.9"/>
<line x1="78.40" y1="840.00" x2="78.40" y2="982.90" stroke="#111" stroke-width="1.7"/>
<line x1="77.90" y1="982.40" x2="221.20" y2="982.40" stroke="#111" stroke-width="1.7"/>
<line x1="147.00" y1="840.50" x2="147.00" y2="982.40" stroke="#0c0c0c" stroke-width="2.3"/>
<line x1="78.40" y1="934.50" x2="220.80" y2="934.50" stroke="#0c0c0c" stroke-width="2.3"/>
<line x1="74.60" y1="840.70" x2="78.40" y2="840.70" stroke="#111" stroke-width="2.6"/>
<line x1="76.20" y1="859.92" x2="78.40" y2="859.92" stroke="#222" stroke-width="1.2"/>
<line x1="76.20" y1="855.08" x2="78.40" y2="855.08" stroke="#222" stroke-width="1.2"/>
<line x1="76.20" y1="851.64" x2="78.40" y2="851.64" stroke="#222" stroke-width="1.2"/>
<line x1="76.20" y1="848.98" x2="78.40" y2="848.98" stroke="#222" stroke-width="1.2"/>
<line x1="76.20" y1="846.80" x2="78.40" y2="846.80" stroke="#222" stroke-width="1.2"/>
<line x1="76.20" y1="844.96" x2="78.40" y2="844.96" stroke="#222" stroke-width="1.2"/>
<line x1="76.20" y1="843.37" x2="78.40" y2="843.37" stroke="#222" stroke-width="1.2"/>
<line x1="76.20" y1="841.96" x2="78.40" y2="841.96" stroke="#222" stroke-width="1.2"/>
<line x1="74.60" y1="868.20" x2="78.40" y2="868.20" stroke="#111" stroke-width="2.6"/>
<line x1="76.20" y1="887.98" x2="78.40" y2="887.98" stroke="#222" stroke-width="1.2"/>
<line x1="76.20" y1="883.00" x2="78.40" y2="883.00" stroke="#222" stroke-width="1.2"/>
<line x1="76.20" y1="879.46" x2="78.40" y2="879.46" stroke="#222" stroke-width="1.2"/>
<line x1="76.20" y1="876.72" x2="78.40" y2="876.72" stroke="#222" stroke-width="1.2"/>
<line x1="76.20" y1="874.48" x2="78.40" y2="874.48" stroke="#222" stroke-width="1.2"/>
<line x1="76.20" y1="872.58" x2="78.40" y2="872.58" stroke="#222" stroke-width="1.2"/>
<line x1="76.20" y1="870.94" x2="78.40" y2="870.94" stroke="#222" stroke-width="1.2"/>
<line x1="76.20" y1="869.49" x2="78.40" y2="869.49" stroke="#222" stroke-width="1.2"/>
<line x1="74.60" y1="896.50" x2="78.40" y2="896.50" stroke="#111" stroke-width="2.6"/>
<line x1="76.20" y1="917.26" x2="78.40" y2="917.26" stroke="#222" stroke-width="1.2"/>
<line x1="76.20" y1="912.03" x2="78.40" y2="912.03" stroke="#222" stroke-width="1.2"/>
<line x1="76.20" y1="908.32" x2="78.40" y2="908.32" stroke="#222" stroke-width="1.2"/>
<line x1="76.20" y1="905.44" x2="78.40" y2="905.44" stroke="#222" stroke-width="1.2"/>
<line x1="76.20" y1="903.09" x2="78.40" y2="903.09" stroke="#222" stroke-width="1.2"/>
<line x1="76.20" y1="901.10" x2="78.40" y2="901.10" stroke="#222" stroke-width="1.2"/>
<line x1="76.20" y1="899.38" x2="78.40" y2="899.38" stroke="#222" stroke-width="1.2"/>
<line x1="76.20" y1="897.86" x2="78.40" y2="897.86" stroke="#222" stroke-width="1.2"/>
<line x1="74.60" y1="926.20" x2="78.40" y2="926.20" stroke="#111" stroke-width="2.6"/>
<line x1="76.20" y1="947.03" x2="78.40" y2="947.03" stroke="#222" stroke-width="1.2"/>
<line x1="76.20" y1="941.78" x2="78.40" y2="941.78" stroke="#222" stroke-width="1.2"/>
<line x1="76.20" y1="938.06" x2="78.40" y2="938.06" stroke="#222" stroke-width="1.2"/>
<line x1="76.20" y1="935.17" x2="78.40" y2="935.17" stroke="#222" stroke-width="1.2"/>
<line x1="76.20" y1="932.81" x2="78.40" y2="932.81" stroke="#222" stroke-width="1.2"/>
<line x1="76.20" y1="930.82" x2="78.40" y2="930.82" stroke="#222" stroke-width="1.2"/>
<line x1="76.20" y1="929.09" x2="78.40" y2="929.09" stroke="#222" stroke-width="1.2"/>
<line x1="76.20" y1="927.56" x2="78.40" y2="927.56" stroke="#222" stroke-width="1.2"/>
<line x1="74.60" y1="956.00" x2="78.40" y2="956.00" stroke="#111" stroke-width="2.6"/>
<line x1="74.80" y1="962.00" x2="78.40" y2="962.00" stroke="#111" stroke-width="1.6"/>
<line x1="74.20" y1="967.10" x2="78.40" y2="967.10" stroke="#111" stroke-width="3.5"/>
<line x1="74.80" y1="973.20" x2="78.40" y2="973.20" stroke="#111" stroke-width="1.8"/>
<line x1="74.60" y1="979.10" x2="78.40" y2="979.10" stroke="#111" stroke-width="2.2"/>
<line x1="129.80" y1="982.40" x2="129.80" y2="986.20" stroke="#111" stroke-width="2.6"/>
<line x1="110.65" y1="982.40" x2="110.65" y2="984.60" stroke="#222" stroke-width="1.2"/>
<line x1="115.47" y1="982.40" x2="115.47" y2="984.60" stroke="#222" stroke-width="1.2"/>
<line x1="118.90" y1="982.40" x2="118.90" y2="984.60" stroke="#222" stroke-width="1.2"/>
<line x1="121.55" y1="982.40" x2="121.55" y2="984.60" stroke="#222" stroke-width="1.2"/>
<line x1="123.72" y1="982.40" x2="123.72" y2="984.60" stroke="#222" stroke-width="1.2"/>
<line x1="125.56" y1="982.40" x2="125.56" y2="984.60" stroke="#222" stroke-width="1.2"/>
<line x1="127.14" y1="982.40" x2="127.14" y2="984.60" stroke="#222" stroke-width="1.2"/>
<line x1="128.55" y1="982.40" x2="128.55" y2="984.60" stroke="#222" stroke-width="1.2"/>
<line x1="156.20" y1="982.40" x2="156.20" y2="986.20" stroke="#111" stroke-width="2.6"/>
<line x1="137.75" y1="982.40" x2="137.75" y2="984.60" stroke="#222" stroke-width="1.2"/>
<line x1="142.40" y1="982.40" x2="142.40" y2="984.60" stroke="#222" stroke-width="1.2"/>
<line x1="145.69" y1="982.40" x2="145.69" y2="984.60" stroke="#222" stroke-width="1.2"/>
<line x1="148.25" y1="982.40" x2="148.25" y2="984.60" stroke="#222" stroke-width="1.2"/>
<line x1="150.34" y1="982.40" x2="150.34" y2="984.60" stroke="#222" stroke-width="1.2"/>
<line x1="152.11" y1="982.40" x2="152.11" y2="984.60" stroke="#222" stroke-width="1.2"/>
<line x1="153.64" y1="982.40" x2="153.64" y2="984.60" stroke="#222" stroke-width="1.2"/>
<line x1="154.99" y1="982.40" x2="154.99" y2="984.60" stroke="#222" stroke-width="1.2"/>
<line x1="182.70" y1="982.40" x2="182.70" y2="986.20" stroke="#111" stroke-width="2.6"/>
<line x1="164.18" y1="982.40" x2="164.18" y2="984.60" stroke="#222" stroke-width="1.2"/>
<line x1="168.84" y1="982.40" x2="168.84" y2="984.60" stroke="#222" stroke-width="1.2"/>
<line x1="172.15" y1="982.40" x2="172.15" y2="984.60" stroke="#222" stroke-width="1.2"/>
<line x1="174.72" y1="982.40" x2="174.72" y2="984.60" stroke="#222" stroke-width="1.2"/>
<line x1="176.82" y1="982.40" x2="176.82" y2="984.60" stroke="#222" stroke-width="1.2"/>
<line x1="178.60" y1="982.40" x2="178.60" y2="984.60" stroke="#222" stroke-width="1.2"/>
<line x1="180.13" y1="982.40" x2="180.13" y2="984.60" stroke="#222" stroke-width="1.2"/>
<line x1="181.49" y1="982.40" x2="181.49" y2="984.60" stroke="#222" stroke-width="1.2"/>
<line x1="209.20" y1="982.40" x2="209.20" y2="986.20" stroke="#111" stroke-width="2.6"/>
<line x1="190.68" y1="982.40" x2="190.68" y2="984.60" stroke="#222" stroke-width="1.2"/>
<line x1="195.34" y1="982.40" x2="195.34" y2="984.60" stroke="#222" stroke-width="1.2"/>
<line x1="198.65" y1="982.40" x2="198.65" y2="984.60" stroke="#222" stroke-width="1.2"/>
<line x1="201.22" y1="982.40" x2="201.22" y2="984.60" stroke="#222" stroke-width="1.2"/>
<line x1="203.32" y1="982.40" x2="203.32" y2="984.60" stroke="#222" stroke-width="1.2"/>
<line x1="205.10" y1="982.40" x2="205.10" y2="984.60" stroke="#222" stroke-width="1.2"/>
<line x1="206.63" y1="982.40" x2="206.63" y2="984.60" stroke="#222" stroke-width="1.2"/>
<line x1="207.99" y1="982.40" x2="207.99" y2="984.60" stroke="#222" stroke-width="1.2"/>
<rect x="80.20" y="982.40" width="22.20" height="2.60" fill="#111" stroke="none" stroke-width="0"/>
<line x1="80.90" y1="982.40" x2="80.90" y2="986.00" stroke="#111" stroke-width="2.2"/>
<line x1="88.90" y1="982.40" x2="88.90" y2="986.00" stroke="#111" stroke-width="2.2"/>
<line x1="94.80" y1="982.40" x2="94.80" y2="986.00" stroke="#111" stroke-width="2.2"/>
<line x1="101.40" y1="982.40" x2="101.40" y2="986.00" stroke="#111" stroke-width="2.2"/>
<text x="71.90" y="850.60" font-size="6.9" text-anchor="end" fill="#2a2a2a">10<tspan dy="-3" font-size="4.8">6</tspan></text>
<text x="71.90" y="873.70" font-size="6.9" text-anchor="end" fill="#2a2a2a">10<tspan dy="-3" font-size="4.8">5</tspan></text>
<text x="71.90" y="900.50" font-size="6.9" text-anchor="end" fill="#2a2a2a">10<tspan dy="-3" font-size="4.8">4</tspan></text>
<text x="71.90" y="930.20" font-size="6.9" text-anchor="end" fill="#2a2a2a">10<tspan dy="-3" font-size="4.8">3</tspan></text>
<text x="71.90" y="960.70" font-size="6.9" text-anchor="end" fill="#2a2a2a">10<tspan dy="-3" font-size="4.8">2</tspan></text>
<text x="69.10" y="971.90" font-size="6.9" text-anchor="end" font-weight="normal" fill="#2a2a2a" >0</text>
<text x="94.80" y="995.60" font-size="6.9" text-anchor="middle" font-weight="normal" fill="#2a2a2a" >0</text>
<text x="131.30" y="995.60" font-size="6.9" text-anchor="middle" fill="#2a2a2a">10<tspan dy="-3" font-size="4.8">3</tspan></text>
<text x="157.70" y="995.60" font-size="6.9" text-anchor="middle" fill="#2a2a2a">10<tspan dy="-3" font-size="4.8">4</tspan></text>
<text x="184.20" y="995.60" font-size="6.9" text-anchor="middle" fill="#2a2a2a">10<tspan dy="-3" font-size="4.8">5</tspan></text>
<text x="210.70" y="995.60" font-size="6.9" text-anchor="middle" fill="#2a2a2a">10<tspan dy="-3" font-size="4.8">6</tspan></text>
<text x="155.60" y="1005.60" font-size="8.4" text-anchor="middle" font-weight="normal" fill="#2a2a2a" >FL1-A :: EGFP-A</text>
<text transform="translate(56.90,904.50) rotate(-90)" font-size="8.4" text-anchor="middle" fill="#2a2a2a">FL3-A :: mRFP1-A</text>
<text x="145.70" y="834.60" font-size="10.6" text-anchor="middle" font-weight="normal" fill="#2a2a2a" >AAV 1</text>
<text x="81.40" y="852.40" font-size="6.2" text-anchor="start" font-weight="normal" fill="#2a2a2a" >Q1</text>
<text x="81.40" y="861.00" font-size="6.2" text-anchor="start" font-weight="normal" fill="#2a2a2a" >46.2</text>
<text x="207.40" y="852.40" font-size="6.2" text-anchor="end" font-weight="normal" fill="#2a2a2a" >Q2</text>
<text x="207.40" y="861.00" font-size="6.2" text-anchor="end" font-weight="normal" fill="#2a2a2a" >5.58</text>
<text x="81.40" y="966.60" font-size="6.2" text-anchor="start" font-weight="normal" fill="#2a2a2a" >Q4</text>
<text x="81.40" y="975.50" font-size="6.2" text-anchor="start" font-weight="normal" fill="#2a2a2a" >47.3</text>
<text x="207.40" y="966.60" font-size="6.2" text-anchor="end" font-weight="normal" fill="#2a2a2a" >Q3</text>
<text x="207.40" y="975.50" font-size="6.2" text-anchor="end" font-weight="normal" fill="#2a2a2a" >0.91</text>
<rect x="256.50" y="840.50" width="142.10" height="141.90" fill="#fdfdfe" stroke="none" stroke-width="0"/>
<clipPath id="bc4"><path d="M290.60,945.90 C290.50,941.35 291.95,935.33 293.70,931.00 C295.45,926.67 297.80,923.62 301.10,919.90 C304.40,916.18 309.37,910.88 313.50,908.70 C317.63,906.52 320.93,907.32 325.90,906.80 C330.87,906.28 337.72,905.28 343.30,905.60 C348.88,905.92 355.78,906.32 359.40,908.70 C363.02,911.08 364.58,916.60 365.00,919.90 C365.42,923.20 363.65,925.62 361.90,928.50 C360.15,931.38 356.77,934.10 354.50,937.20 C352.23,940.30 351.20,943.58 348.30,947.10 C345.40,950.62 341.45,955.60 337.10,958.30 C332.75,961.00 327.78,962.05 322.20,963.30 C316.62,964.55 308.25,966.63 303.60,965.80 C298.95,964.97 296.47,961.62 294.30,958.30 C292.13,954.98 290.70,950.45 290.60,945.90 Z"/></clipPath>
<path d="M290.60,945.90 C290.50,941.35 291.95,935.33 293.70,931.00 C295.45,926.67 297.80,923.62 301.10,919.90 C304.40,916.18 309.37,910.88 313.50,908.70 C317.63,906.52 320.93,907.32 325.90,906.80 C330.87,906.28 337.72,905.28 343.30,905.60 C348.88,905.92 355.78,906.32 359.40,908.70 C363.02,911.08 364.58,916.60 365.00,919.90 C365.42,923.20 363.65,925.62 361.90,928.50 C360.15,931.38 356.77,934.10 354.50,937.20 C352.23,940.30 351.20,943.58 348.30,947.10 C345.40,950.62 341.45,955.60 337.10,958.30 C332.75,961.00 327.78,962.05 322.20,963.30 C316.62,964.55 308.25,966.63 303.60,965.80 C298.95,964.97 296.47,961.62 294.30,958.30 C292.13,954.98 290.70,950.45 290.60,945.90 Z" fill="#2d4fa4"/>
<g clip-path="url(#bc4)"><g filter="url(#bl)">
<path d="M292.72,942.64 C293.23,937.60 294.94,927.77 298.09,923.00 C301.24,918.22 306.34,915.86 311.63,913.97 C316.92,912.08 323.75,911.91 329.81,911.65 C335.87,911.39 343.19,911.00 347.99,912.38 C352.78,913.76 357.34,916.41 358.60,919.95 C359.86,923.48 357.83,929.06 355.55,933.61 C353.27,938.16 349.73,943.49 344.94,947.27 C340.14,951.06 333.06,954.29 326.76,956.30 C320.45,958.32 312.40,959.86 307.12,959.35 C301.83,958.84 297.44,956.04 295.04,953.25 C292.64,950.47 292.21,947.68 292.72,942.64 Z" fill="#2f5cb2"/>
<path d="M295.60,941.69 C296.06,937.14 297.60,928.29 300.44,923.98 C303.28,919.67 307.88,917.54 312.65,915.84 C317.42,914.13 323.58,913.99 329.04,913.75 C334.50,913.51 341.10,913.16 345.43,914.41 C349.76,915.66 353.86,918.04 355.00,921.23 C356.14,924.42 354.30,929.44 352.25,933.55 C350.20,937.66 347.01,942.46 342.68,945.87 C338.35,949.28 331.97,952.19 326.29,954.01 C320.61,955.83 313.35,957.22 308.58,956.76 C303.81,956.30 299.85,953.77 297.69,951.26 C295.53,948.75 295.14,946.24 295.60,941.69 Z" fill="#3886d0"/>
<path d="M298.00,940.90 C298.42,936.77 299.82,928.72 302.40,924.80 C304.98,920.88 309.17,918.95 313.50,917.40 C317.83,915.85 323.43,915.72 328.40,915.50 C333.37,915.28 339.37,914.97 343.30,916.10 C347.23,917.23 350.97,919.40 352.00,922.30 C353.03,925.20 351.37,929.77 349.50,933.50 C347.63,937.23 344.73,941.60 340.80,944.70 C336.87,947.80 331.07,950.45 325.90,952.10 C320.73,953.75 314.13,955.02 309.80,954.60 C305.47,954.18 301.87,951.88 299.90,949.60 C297.93,947.32 297.58,945.03 298.00,940.90 Z" fill="#44bfea"/>
<path d="M299.92,940.27 C300.30,936.47 301.59,929.06 303.97,925.46 C306.34,921.85 310.19,920.07 314.18,918.65 C318.17,917.22 323.32,917.10 327.89,916.90 C332.46,916.70 337.98,916.41 341.60,917.45 C345.21,918.49 348.65,920.49 349.60,923.16 C350.55,925.82 349.02,930.03 347.30,933.46 C345.58,936.89 342.91,940.91 339.30,943.76 C335.68,946.62 330.34,949.05 325.59,950.57 C320.83,952.09 314.76,953.26 310.78,952.87 C306.79,952.49 303.48,950.37 301.67,948.27 C299.86,946.17 299.54,944.07 299.92,940.27 Z" fill="#58c1b0"/>
<path d="M301.84,939.64 C302.19,936.16 303.37,929.40 305.54,926.11 C307.71,922.82 311.22,921.20 314.86,919.90 C318.50,918.59 323.20,918.48 327.38,918.30 C331.55,918.12 336.59,917.85 339.89,918.80 C343.20,919.76 346.33,921.58 347.20,924.01 C348.07,926.45 346.67,930.28 345.10,933.42 C343.53,936.56 341.10,940.22 337.79,942.83 C334.49,945.43 329.62,947.66 325.28,949.04 C320.94,950.43 315.39,951.49 311.75,951.14 C308.11,950.79 305.09,948.86 303.44,946.94 C301.78,945.03 301.49,943.11 301.84,939.64 Z" fill="#6cbf4c"/>
<path d="M307.12,937.90 C307.38,935.34 308.25,930.34 309.85,927.92 C311.45,925.49 314.04,924.29 316.73,923.33 C319.42,922.37 322.89,922.28 325.97,922.15 C329.05,922.02 332.77,921.82 335.21,922.52 C337.64,923.22 339.96,924.57 340.60,926.37 C341.24,928.16 340.21,931.00 339.05,933.31 C337.89,935.62 336.09,938.33 333.66,940.25 C331.22,942.18 327.62,943.82 324.42,944.84 C321.21,945.87 317.12,946.65 314.44,946.39 C311.75,946.13 309.52,944.71 308.30,943.29 C307.08,941.88 306.86,940.46 307.12,937.90 Z" fill="#84c640"/>
<path d="M303.60,934.00 C303.93,931.83 304.27,927.58 306.00,926.00 C307.73,924.42 310.83,924.50 314.00,924.50 C317.17,924.50 321.00,925.83 325.00,926.00 C329.00,926.17 335.33,924.67 338.00,925.50 C340.67,926.33 341.33,929.08 341.00,931.00 C340.67,932.92 338.67,935.75 336.00,937.00 C333.33,938.25 329.00,938.08 325.00,938.50 C321.00,938.92 315.50,939.42 312.00,939.50 C308.50,939.58 305.40,939.92 304.00,939.00 C302.60,938.08 303.27,936.17 303.60,934.00 Z" fill="#e6df2c"/>
<ellipse cx="332" cy="930.5" rx="6" ry="5" fill="#f4a522"/>
<ellipse cx="310.5" cy="930.8" rx="6.2" ry="5.6" fill="#e52a1f"/>
<ellipse cx="323" cy="931.5" rx="8" ry="4.2" fill="#e52a1f"/>
<ellipse cx="332" cy="930.5" rx="3.5" ry="3.2" fill="#f06a1d"/>
</g></g>
<rect x="256.50" y="840.50" width="142.10" height="141.90" fill="none" stroke="#444" stroke-width="0.9"/>
<line x1="256.50" y1="840.00" x2="256.50" y2="982.90" stroke="#111" stroke-width="1.7"/>
<line x1="256.00" y1="982.40" x2="399.00" y2="982.40" stroke="#111" stroke-width="1.7"/>
<line x1="324.60" y1="840.50" x2="324.60" y2="982.40" stroke="#0c0c0c" stroke-width="2.3"/>
<line x1="256.50" y1="934.50" x2="398.60" y2="934.50" stroke="#0c0c0c" stroke-width="2.3"/>
<line x1="252.70" y1="840.70" x2="256.50" y2="840.70" stroke="#111" stroke-width="2.6"/>
<line x1="254.30" y1="859.92" x2="256.50" y2="859.92" stroke="#222" stroke-width="1.2"/>
<line x1="254.30" y1="855.08" x2="256.50" y2="855.08" stroke="#222" stroke-width="1.2"/>
<line x1="254.30" y1="851.64" x2="256.50" y2="851.64" stroke="#222" stroke-width="1.2"/>
<line x1="254.30" y1="848.98" x2="256.50" y2="848.98" stroke="#222" stroke-width="1.2"/>
<line x1="254.30" y1="846.80" x2="256.50" y2="846.80" stroke="#222" stroke-width="1.2"/>
<line x1="254.30" y1="844.96" x2="256.50" y2="844.96" stroke="#222" stroke-width="1.2"/>
<line x1="254.30" y1="843.37" x2="256.50" y2="843.37" stroke="#222" stroke-width="1.2"/>
<line x1="254.30" y1="841.96" x2="256.50" y2="841.96" stroke="#222" stroke-width="1.2"/>
<line x1="252.70" y1="868.20" x2="256.50" y2="868.20" stroke="#111" stroke-width="2.6"/>
<line x1="254.30" y1="887.98" x2="256.50" y2="887.98" stroke="#222" stroke-width="1.2"/>
<line x1="254.30" y1="883.00" x2="256.50" y2="883.00" stroke="#222" stroke-width="1.2"/>
<line x1="254.30" y1="879.46" x2="256.50" y2="879.46" stroke="#222" stroke-width="1.2"/>
<line x1="254.30" y1="876.72" x2="256.50" y2="876.72" stroke="#222" stroke-width="1.2"/>
<line x1="254.30" y1="874.48" x2="256.50" y2="874.48" stroke="#222" stroke-width="1.2"/>
<line x1="254.30" y1="872.58" x2="256.50" y2="872.58" stroke="#222" stroke-width="1.2"/>
<line x1="254.30" y1="870.94" x2="256.50" y2="870.94" stroke="#222" stroke-width="1.2"/>
<line x1="254.30" y1="869.49" x2="256.50" y2="869.49" stroke="#222" stroke-width="1.2"/>
<line x1="252.70" y1="896.50" x2="256.50" y2="896.50" stroke="#111" stroke-width="2.6"/>
<line x1="254.30" y1="917.26" x2="256.50" y2="917.26" stroke="#222" stroke-width="1.2"/>
<line x1="254.30" y1="912.03" x2="256.50" y2="912.03" stroke="#222" stroke-width="1.2"/>
<line x1="254.30" y1="908.32" x2="256.50" y2="908.32" stroke="#222" stroke-width="1.2"/>
<line x1="254.30" y1="905.44" x2="256.50" y2="905.44" stroke="#222" stroke-width="1.2"/>
<line x1="254.30" y1="903.09" x2="256.50" y2="903.09" stroke="#222" stroke-width="1.2"/>
<line x1="254.30" y1="901.10" x2="256.50" y2="901.10" stroke="#222" stroke-width="1.2"/>
<line x1="254.30" y1="899.38" x2="256.50" y2="899.38" stroke="#222" stroke-width="1.2"/>
<line x1="254.30" y1="897.86" x2="256.50" y2="897.86" stroke="#222" stroke-width="1.2"/>
<line x1="252.70" y1="926.20" x2="256.50" y2="926.20" stroke="#111" stroke-width="2.6"/>
<line x1="254.30" y1="947.03" x2="256.50" y2="947.03" stroke="#222" stroke-width="1.2"/>
<line x1="254.30" y1="941.78" x2="256.50" y2="941.78" stroke="#222" stroke-width="1.2"/>
<line x1="254.30" y1="938.06" x2="256.50" y2="938.06" stroke="#222" stroke-width="1.2"/>
<line x1="254.30" y1="935.17" x2="256.50" y2="935.17" stroke="#222" stroke-width="1.2"/>
<line x1="254.30" y1="932.81" x2="256.50" y2="932.81" stroke="#222" stroke-width="1.2"/>
<line x1="254.30" y1="930.82" x2="256.50" y2="930.82" stroke="#222" stroke-width="1.2"/>
<line x1="254.30" y1="929.09" x2="256.50" y2="929.09" stroke="#222" stroke-width="1.2"/>
<line x1="254.30" y1="927.56" x2="256.50" y2="927.56" stroke="#222" stroke-width="1.2"/>
<line x1="252.70" y1="956.00" x2="256.50" y2="956.00" stroke="#111" stroke-width="2.6"/>
<line x1="252.90" y1="962.00" x2="256.50" y2="962.00" stroke="#111" stroke-width="1.6"/>
<line x1="252.30" y1="967.10" x2="256.50" y2="967.10" stroke="#111" stroke-width="3.5"/>
<line x1="252.90" y1="973.20" x2="256.50" y2="973.20" stroke="#111" stroke-width="1.8"/>
<line x1="252.70" y1="979.10" x2="256.50" y2="979.10" stroke="#111" stroke-width="2.2"/>
<line x1="307.90" y1="982.40" x2="307.90" y2="986.20" stroke="#111" stroke-width="2.6"/>
<line x1="288.75" y1="982.40" x2="288.75" y2="984.60" stroke="#222" stroke-width="1.2"/>
<line x1="293.57" y1="982.40" x2="293.57" y2="984.60" stroke="#222" stroke-width="1.2"/>
<line x1="297.00" y1="982.40" x2="297.00" y2="984.60" stroke="#222" stroke-width="1.2"/>
<line x1="299.65" y1="982.40" x2="299.65" y2="984.60" stroke="#222" stroke-width="1.2"/>
<line x1="301.82" y1="982.40" x2="301.82" y2="984.60" stroke="#222" stroke-width="1.2"/>
<line x1="303.66" y1="982.40" x2="303.66" y2="984.60" stroke="#222" stroke-width="1.2"/>
<line x1="305.24" y1="982.40" x2="305.24" y2="984.60" stroke="#222" stroke-width="1.2"/>
<line x1="306.65" y1="982.40" x2="306.65" y2="984.60" stroke="#222" stroke-width="1.2"/>
<line x1="334.30" y1="982.40" x2="334.30" y2="986.20" stroke="#111" stroke-width="2.6"/>
<line x1="315.85" y1="982.40" x2="315.85" y2="984.60" stroke="#222" stroke-width="1.2"/>
<line x1="320.50" y1="982.40" x2="320.50" y2="984.60" stroke="#222" stroke-width="1.2"/>
<line x1="323.79" y1="982.40" x2="323.79" y2="984.60" stroke="#222" stroke-width="1.2"/>
<line x1="326.35" y1="982.40" x2="326.35" y2="984.60" stroke="#222" stroke-width="1.2"/>
<line x1="328.44" y1="982.40" x2="328.44" y2="984.60" stroke="#222" stroke-width="1.2"/>
<line x1="330.21" y1="982.40" x2="330.21" y2="984.60" stroke="#222" stroke-width="1.2"/>
<line x1="331.74" y1="982.40" x2="331.74" y2="984.60" stroke="#222" stroke-width="1.2"/>
<line x1="333.09" y1="982.40" x2="333.09" y2="984.60" stroke="#222" stroke-width="1.2"/>
<line x1="360.80" y1="982.40" x2="360.80" y2="986.20" stroke="#111" stroke-width="2.6"/>
<line x1="342.28" y1="982.40" x2="342.28" y2="984.60" stroke="#222" stroke-width="1.2"/>
<line x1="346.94" y1="982.40" x2="346.94" y2="984.60" stroke="#222" stroke-width="1.2"/>
<line x1="350.25" y1="982.40" x2="350.25" y2="984.60" stroke="#222" stroke-width="1.2"/>
<line x1="352.82" y1="982.40" x2="352.82" y2="984.60" stroke="#222" stroke-width="1.2"/>
<line x1="354.92" y1="982.40" x2="354.92" y2="984.60" stroke="#222" stroke-width="1.2"/>
<line x1="356.70" y1="982.40" x2="356.70" y2="984.60" stroke="#222" stroke-width="1.2"/>
<line x1="358.23" y1="982.40" x2="358.23" y2="984.60" stroke="#222" stroke-width="1.2"/>
<line x1="359.59" y1="982.40" x2="359.59" y2="984.60" stroke="#222" stroke-width="1.2"/>
<line x1="387.30" y1="982.40" x2="387.30" y2="986.20" stroke="#111" stroke-width="2.6"/>
<line x1="368.78" y1="982.40" x2="368.78" y2="984.60" stroke="#222" stroke-width="1.2"/>
<line x1="373.44" y1="982.40" x2="373.44" y2="984.60" stroke="#222" stroke-width="1.2"/>
<line x1="376.75" y1="982.40" x2="376.75" y2="984.60" stroke="#222" stroke-width="1.2"/>
<line x1="379.32" y1="982.40" x2="379.32" y2="984.60" stroke="#222" stroke-width="1.2"/>
<line x1="381.42" y1="982.40" x2="381.42" y2="984.60" stroke="#222" stroke-width="1.2"/>
<line x1="383.20" y1="982.40" x2="383.20" y2="984.60" stroke="#222" stroke-width="1.2"/>
<line x1="384.73" y1="982.40" x2="384.73" y2="984.60" stroke="#222" stroke-width="1.2"/>
<line x1="386.09" y1="982.40" x2="386.09" y2="984.60" stroke="#222" stroke-width="1.2"/>
<rect x="258.30" y="982.40" width="22.20" height="2.60" fill="#111" stroke="none" stroke-width="0"/>
<line x1="259.00" y1="982.40" x2="259.00" y2="986.00" stroke="#111" stroke-width="2.2"/>
<line x1="267.00" y1="982.40" x2="267.00" y2="986.00" stroke="#111" stroke-width="2.2"/>
<line x1="272.90" y1="982.40" x2="272.90" y2="986.00" stroke="#111" stroke-width="2.2"/>
<line x1="279.50" y1="982.40" x2="279.50" y2="986.00" stroke="#111" stroke-width="2.2"/>
<text x="250.00" y="850.60" font-size="6.9" text-anchor="end" fill="#2a2a2a">10<tspan dy="-3" font-size="4.8">6</tspan></text>
<text x="250.00" y="873.70" font-size="6.9" text-anchor="end" fill="#2a2a2a">10<tspan dy="-3" font-size="4.8">5</tspan></text>
<text x="250.00" y="900.50" font-size="6.9" text-anchor="end" fill="#2a2a2a">10<tspan dy="-3" font-size="4.8">4</tspan></text>
<text x="250.00" y="930.20" font-size="6.9" text-anchor="end" fill="#2a2a2a">10<tspan dy="-3" font-size="4.8">3</tspan></text>
<text x="250.00" y="960.70" font-size="6.9" text-anchor="end" fill="#2a2a2a">10<tspan dy="-3" font-size="4.8">2</tspan></text>
<text x="247.20" y="971.90" font-size="6.9" text-anchor="end" font-weight="normal" fill="#2a2a2a" >0</text>
<text x="272.90" y="995.60" font-size="6.9" text-anchor="middle" font-weight="normal" fill="#2a2a2a" >0</text>
<text x="309.40" y="995.60" font-size="6.9" text-anchor="middle" fill="#2a2a2a">10<tspan dy="-3" font-size="4.8">3</tspan></text>
<text x="335.80" y="995.60" font-size="6.9" text-anchor="middle" fill="#2a2a2a">10<tspan dy="-3" font-size="4.8">4</tspan></text>
<text x="362.30" y="995.60" font-size="6.9" text-anchor="middle" fill="#2a2a2a">10<tspan dy="-3" font-size="4.8">5</tspan></text>
<text x="388.80" y="995.60" font-size="6.9" text-anchor="middle" fill="#2a2a2a">10<tspan dy="-3" font-size="4.8">6</tspan></text>
<text x="333.55" y="1005.60" font-size="8.4" text-anchor="middle" font-weight="normal" fill="#2a2a2a" >FL1-A :: EGFP-A</text>
<text transform="translate(235.00,904.50) rotate(-90)" font-size="8.4" text-anchor="middle" fill="#2a2a2a">FL3-A :: mRFP1-A</text>
<text x="321.80" y="834.60" font-size="10.6" text-anchor="middle" font-weight="normal" fill="#2a2a2a" >Ad 5/35</text>
<text x="259.50" y="852.40" font-size="6.2" text-anchor="start" font-weight="normal" fill="#2a2a2a" >Q1</text>
<text x="259.50" y="861.00" font-size="6.2" text-anchor="start" font-weight="normal" fill="#2a2a2a" >25.7</text>
<text x="385.20" y="852.40" font-size="6.2" text-anchor="end" font-weight="normal" fill="#2a2a2a" >Q2</text>
<text x="385.20" y="861.00" font-size="6.2" text-anchor="end" font-weight="normal" fill="#2a2a2a" >30.2</text>
<text x="259.50" y="966.60" font-size="6.2" text-anchor="start" font-weight="normal" fill="#2a2a2a" >Q4</text>
<text x="259.50" y="975.50" font-size="6.2" text-anchor="start" font-weight="normal" fill="#2a2a2a" >28.9</text>
<text x="385.20" y="966.60" font-size="6.2" text-anchor="end" font-weight="normal" fill="#2a2a2a" >Q3</text>
<text x="385.20" y="975.50" font-size="6.2" text-anchor="end" font-weight="normal" fill="#2a2a2a" >15.2</text>
<rect x="427.60" y="840.50" width="142.70" height="141.90" fill="#fdfdfe" stroke="none" stroke-width="0"/>
<clipPath id="bc5"><path d="M491.30,896.60 C493.63,895.00 494.32,895.38 496.50,895.30 C498.68,895.22 501.62,895.38 504.40,896.10 C507.18,896.82 509.77,898.57 513.20,899.60 C516.63,900.63 521.20,901.98 525.00,902.30 C528.80,902.62 532.23,902.33 536.00,901.50 C539.77,900.67 543.62,899.02 547.60,897.30 C551.58,895.58 556.98,894.12 559.90,891.20 C562.82,888.28 563.35,883.92 565.10,879.80 C566.85,875.68 569.08,869.13 570.40,866.50 C571.72,863.87 572.57,859.58 573.00,864.00 C573.43,868.42 573.43,888.25 573.00,893.00 C572.57,897.75 571.72,891.20 570.40,892.50 C569.08,893.80 568.90,896.78 565.10,900.80 C561.30,904.82 554.02,911.93 547.60,916.60 C541.18,921.27 531.62,926.23 526.60,928.80 C521.58,931.37 520.47,931.02 517.50,932.00 C514.53,932.98 511.42,933.53 508.80,934.70 C506.18,935.87 503.85,937.70 501.80,939.00 C499.75,940.30 498.40,940.45 496.50,942.50 C494.60,944.55 492.30,948.38 490.40,951.30 C488.50,954.22 486.85,957.95 485.10,960.00 C483.35,962.05 481.50,963.45 479.90,963.60 C478.30,963.75 476.67,962.52 475.50,960.90 C474.33,959.28 473.18,956.97 472.90,953.90 C472.62,950.83 474.02,945.57 473.80,942.50 C473.58,939.43 472.05,938.12 471.60,935.50 C471.15,932.88 470.60,930.00 471.10,926.80 C471.60,923.60 472.70,919.95 474.60,916.30 C476.50,912.65 479.72,908.18 482.50,904.90 C485.28,901.62 488.97,898.20 491.30,896.60 Z"/></clipPath>
<g clip-path="url(#cp5)">
<path d="M491.30,896.60 C493.63,895.00 494.32,895.38 496.50,895.30 C498.68,895.22 501.62,895.38 504.40,896.10 C507.18,896.82 509.77,898.57 513.20,899.60 C516.63,900.63 521.20,901.98 525.00,902.30 C528.80,902.62 532.23,902.33 536.00,901.50 C539.77,900.67 543.62,899.02 547.60,897.30 C551.58,895.58 556.98,894.12 559.90,891.20 C562.82,888.28 563.35,883.92 565.10,879.80 C566.85,875.68 569.08,869.13 570.40,866.50 C571.72,863.87 572.57,859.58 573.00,864.00 C573.43,868.42 573.43,888.25 573.00,893.00 C572.57,897.75 571.72,891.20 570.40,892.50 C569.08,893.80 568.90,896.78 565.10,900.80 C561.30,904.82 554.02,911.93 547.60,916.60 C541.18,921.27 531.62,926.23 526.60,928.80 C521.58,931.37 520.47,931.02 517.50,932.00 C514.53,932.98 511.42,933.53 508.80,934.70 C506.18,935.87 503.85,937.70 501.80,939.00 C499.75,940.30 498.40,940.45 496.50,942.50 C494.60,944.55 492.30,948.38 490.40,951.30 C488.50,954.22 486.85,957.95 485.10,960.00 C483.35,962.05 481.50,963.45 479.90,963.60 C478.30,963.75 476.67,962.52 475.50,960.90 C474.33,959.28 473.18,956.97 472.90,953.90 C472.62,950.83 474.02,945.57 473.80,942.50 C473.58,939.43 472.05,938.12 471.60,935.50 C471.15,932.88 470.60,930.00 471.10,926.80 C471.60,923.60 472.70,919.95 474.60,916.30 C476.50,912.65 479.72,908.18 482.50,904.90 C485.28,901.62 488.97,898.20 491.30,896.60 Z" fill="#2d4fa4"/>
<g clip-path="url(#bc5)"><g filter="url(#bl2)">
<path d="M480,937 C484,944 486,950 482,957" stroke="#3a8fd6" stroke-width="3" fill="none"/>
<path d="M505,913 C520,916 540,910 552,903 C560,898 566,890 570,880" stroke="#3886d0" stroke-width="6" fill="none"/>
<path d="M508,915 C522,917 540,911 552,904 C558,900 563,895 566,888" stroke="#44bfea" stroke-width="2.2" fill="none"/>
<path d="M473.59,929.45 C473.41,925.47 473.53,918.53 475.60,913.87 C477.66,909.21 482.36,904.41 485.98,901.48 C489.60,898.55 494.38,896.47 497.31,896.29 C500.24,896.11 500.81,898.18 503.56,900.42 C506.32,902.66 511.04,907.60 513.83,909.74 C516.62,911.88 519.63,911.51 520.32,913.28 C521.01,915.05 519.04,917.84 517.96,920.36 C516.88,922.88 516.58,926.02 513.83,928.38 C511.08,930.74 506.08,932.81 501.44,934.52 C496.80,936.23 490.11,938.12 485.98,938.65 C481.85,939.18 478.73,939.24 476.66,937.71 C474.60,936.17 473.77,933.42 473.59,929.45 Z" fill="#3470c2"/>
<path d="M476.40,927.70 C476.25,924.33 476.35,918.45 478.10,914.50 C479.85,910.55 483.83,906.48 486.90,904.00 C489.97,901.52 494.02,899.75 496.50,899.60 C498.98,899.45 499.47,901.20 501.80,903.10 C504.13,905.00 508.13,909.18 510.50,911.00 C512.87,912.82 515.42,912.50 516.00,914.00 C516.58,915.50 514.92,917.87 514.00,920.00 C513.08,922.13 512.83,924.80 510.50,926.80 C508.17,928.80 503.93,930.55 500.00,932.00 C496.07,933.45 490.40,935.05 486.90,935.50 C483.40,935.95 480.75,936.00 479.00,934.70 C477.25,933.40 476.55,931.07 476.40,927.70 Z" fill="#44bfea"/>
<path d="M477.96,927.50 C477.96,924.19 478.55,917.19 480.77,913.25 C482.98,909.31 488.24,905.74 491.24,903.85 C494.25,901.96 496.28,900.97 498.80,901.91 C501.32,902.84 504.80,906.62 506.36,909.47 C507.93,912.31 509.15,915.80 508.20,918.97 C507.25,922.14 503.79,926.12 500.64,928.48 C497.49,930.83 492.61,932.35 489.30,933.12 C485.99,933.89 482.66,934.06 480.77,933.12 C478.88,932.18 477.96,930.82 477.96,927.50 Z" fill="#5cc0a0"/>
<path d="M479.00,926.80 C479.00,923.73 479.55,917.25 481.60,913.60 C483.65,909.95 488.52,906.65 491.30,904.90 C494.08,903.15 495.97,902.23 498.30,903.10 C500.63,903.97 503.85,907.47 505.30,910.10 C506.75,912.73 507.88,915.97 507.00,918.90 C506.12,921.83 502.92,925.52 500.00,927.70 C497.08,929.88 492.57,931.28 489.50,932.00 C486.43,932.72 483.35,932.87 481.60,932.00 C479.85,931.13 479.00,929.87 479.00,926.80 Z" fill="#6dbf48"/>
<path d="M482.86,920.36 C482.68,917.92 484.42,914.06 485.98,911.96 C487.54,909.86 489.94,908.12 492.22,907.76 C494.50,907.40 498.24,908.40 499.66,909.80 C501.08,911.20 501.44,913.88 500.74,916.16 C500.04,918.44 497.74,921.74 495.46,923.48 C493.18,925.22 489.16,927.12 487.06,926.60 C484.96,926.08 483.04,922.80 482.86,920.36 Z" fill="#a8d03a"/>
<path d="M484.30,919.80 C484.15,917.77 485.60,914.55 486.90,912.80 C488.20,911.05 490.20,909.60 492.10,909.30 C494.00,909.00 497.12,909.83 498.30,911.00 C499.48,912.17 499.78,914.40 499.20,916.30 C498.62,918.20 496.70,920.95 494.80,922.40 C492.90,923.85 489.55,925.43 487.80,925.00 C486.05,924.57 484.45,921.83 484.30,919.80 Z" fill="#f0e22c"/>
<path d="M485.80,919.38 C485.99,917.54 487.59,914.21 489.05,912.75 C490.51,911.29 493.28,910.25 494.55,910.62 C495.82,911.00 496.86,913.19 496.68,915.00 C496.49,916.81 494.88,920.04 493.43,921.50 C491.97,922.96 489.20,924.10 487.93,923.75 C486.65,923.40 485.61,921.21 485.80,919.38 Z" fill="#f4a022"/>
<path d="M486.90,918.90 C487.05,917.43 488.33,914.77 489.50,913.60 C490.67,912.43 492.88,911.60 493.90,911.90 C494.92,912.20 495.75,913.95 495.60,915.40 C495.45,916.85 494.17,919.43 493.00,920.60 C491.83,921.77 489.62,922.68 488.60,922.40 C487.58,922.12 486.75,920.37 486.90,918.90 Z" fill="#e52320"/>
</g></g></g>
<rect x="427.60" y="840.50" width="142.70" height="141.90" fill="none" stroke="#444" stroke-width="0.9"/>
<line x1="427.60" y1="840.00" x2="427.60" y2="982.90" stroke="#111" stroke-width="1.7"/>
<line x1="427.10" y1="982.40" x2="570.70" y2="982.40" stroke="#111" stroke-width="1.7"/>
<line x1="497.00" y1="840.50" x2="497.00" y2="982.40" stroke="#0c0c0c" stroke-width="2.3"/>
<line x1="427.60" y1="934.30" x2="570.30" y2="934.30" stroke="#0c0c0c" stroke-width="2.3"/>
<line x1="423.80" y1="840.70" x2="427.60" y2="840.70" stroke="#111" stroke-width="2.6"/>
<line x1="425.40" y1="859.92" x2="427.60" y2="859.92" stroke="#222" stroke-width="1.2"/>
<line x1="425.40" y1="855.08" x2="427.60" y2="855.08" stroke="#222" stroke-width="1.2"/>
<line x1="425.40" y1="851.64" x2="427.60" y2="851.64" stroke="#222" stroke-width="1.2"/>
<line x1="425.40" y1="848.98" x2="427.60" y2="848.98" stroke="#222" stroke-width="1.2"/>
<line x1="425.40" y1="846.80" x2="427.60" y2="846.80" stroke="#222" stroke-width="1.2"/>
<line x1="425.40" y1="844.96" x2="427.60" y2="844.96" stroke="#222" stroke-width="1.2"/>
<line x1="425.40" y1="843.37" x2="427.60" y2="843.37" stroke="#222" stroke-width="1.2"/>
<line x1="425.40" y1="841.96" x2="427.60" y2="841.96" stroke="#222" stroke-width="1.2"/>
<line x1="423.80" y1="868.20" x2="427.60" y2="868.20" stroke="#111" stroke-width="2.6"/>
<line x1="425.40" y1="887.98" x2="427.60" y2="887.98" stroke="#222" stroke-width="1.2"/>
<line x1="425.40" y1="883.00" x2="427.60" y2="883.00" stroke="#222" stroke-width="1.2"/>
<line x1="425.40" y1="879.46" x2="427.60" y2="879.46" stroke="#222" stroke-width="1.2"/>
<line x1="425.40" y1="876.72" x2="427.60" y2="876.72" stroke="#222" stroke-width="1.2"/>
<line x1="425.40" y1="874.48" x2="427.60" y2="874.48" stroke="#222" stroke-width="1.2"/>
<line x1="425.40" y1="872.58" x2="427.60" y2="872.58" stroke="#222" stroke-width="1.2"/>
<line x1="425.40" y1="870.94" x2="427.60" y2="870.94" stroke="#222" stroke-width="1.2"/>
<line x1="425.40" y1="869.49" x2="427.60" y2="869.49" stroke="#222" stroke-width="1.2"/>
<line x1="423.80" y1="896.50" x2="427.60" y2="896.50" stroke="#111" stroke-width="2.6"/>
<line x1="425.40" y1="917.26" x2="427.60" y2="917.26" stroke="#222" stroke-width="1.2"/>
<line x1="425.40" y1="912.03" x2="427.60" y2="912.03" stroke="#222" stroke-width="1.2"/>
<line x1="425.40" y1="908.32" x2="427.60" y2="908.32" stroke="#222" stroke-width="1.2"/>
<line x1="425.40" y1="905.44" x2="427.60" y2="905.44" stroke="#222" stroke-width="1.2"/>
<line x1="425.40" y1="903.09" x2="427.60" y2="903.09" stroke="#222" stroke-width="1.2"/>
<line x1="425.40" y1="901.10" x2="427.60" y2="901.10" stroke="#222" stroke-width="1.2"/>
<line x1="425.40" y1="899.38" x2="427.60" y2="899.38" stroke="#222" stroke-width="1.2"/>
<line x1="425.40" y1="897.86" x2="427.60" y2="897.86" stroke="#222" stroke-width="1.2"/>
<line x1="423.80" y1="926.20" x2="427.60" y2="926.20" stroke="#111" stroke-width="2.6"/>
<line x1="425.40" y1="947.03" x2="427.60" y2="947.03" stroke="#222" stroke-width="1.2"/>
<line x1="425.40" y1="941.78" x2="427.60" y2="941.78" stroke="#222" stroke-width="1.2"/>
<line x1="425.40" y1="938.06" x2="427.60" y2="938.06" stroke="#222" stroke-width="1.2"/>
<line x1="425.40" y1="935.17" x2="427.60" y2="935.17" stroke="#222" stroke-width="1.2"/>
<line x1="425.40" y1="932.81" x2="427.60" y2="932.81" stroke="#222" stroke-width="1.2"/>
<line x1="425.40" y1="930.82" x2="427.60" y2="930.82" stroke="#222" stroke-width="1.2"/>
<line x1="425.40" y1="929.09" x2="427.60" y2="929.09" stroke="#222" stroke-width="1.2"/>
<line x1="425.40" y1="927.56" x2="427.60" y2="927.56" stroke="#222" stroke-width="1.2"/>
<line x1="423.80" y1="956.00" x2="427.60" y2="956.00" stroke="#111" stroke-width="2.6"/>
<line x1="424.00" y1="962.00" x2="427.60" y2="962.00" stroke="#111" stroke-width="1.6"/>
<line x1="423.40" y1="967.10" x2="427.60" y2="967.10" stroke="#111" stroke-width="3.5"/>
<line x1="424.00" y1="973.20" x2="427.60" y2="973.20" stroke="#111" stroke-width="1.8"/>
<line x1="423.80" y1="979.10" x2="427.60" y2="979.10" stroke="#111" stroke-width="2.2"/>
<line x1="479.00" y1="982.40" x2="479.00" y2="986.20" stroke="#111" stroke-width="2.6"/>
<line x1="459.85" y1="982.40" x2="459.85" y2="984.60" stroke="#222" stroke-width="1.2"/>
<line x1="464.67" y1="982.40" x2="464.67" y2="984.60" stroke="#222" stroke-width="1.2"/>
<line x1="468.10" y1="982.40" x2="468.10" y2="984.60" stroke="#222" stroke-width="1.2"/>
<line x1="470.75" y1="982.40" x2="470.75" y2="984.60" stroke="#222" stroke-width="1.2"/>
<line x1="472.92" y1="982.40" x2="472.92" y2="984.60" stroke="#222" stroke-width="1.2"/>
<line x1="474.76" y1="982.40" x2="474.76" y2="984.60" stroke="#222" stroke-width="1.2"/>
<line x1="476.34" y1="982.40" x2="476.34" y2="984.60" stroke="#222" stroke-width="1.2"/>
<line x1="477.75" y1="982.40" x2="477.75" y2="984.60" stroke="#222" stroke-width="1.2"/>
<line x1="505.40" y1="982.40" x2="505.40" y2="986.20" stroke="#111" stroke-width="2.6"/>
<line x1="486.95" y1="982.40" x2="486.95" y2="984.60" stroke="#222" stroke-width="1.2"/>
<line x1="491.60" y1="982.40" x2="491.60" y2="984.60" stroke="#222" stroke-width="1.2"/>
<line x1="494.89" y1="982.40" x2="494.89" y2="984.60" stroke="#222" stroke-width="1.2"/>
<line x1="497.45" y1="982.40" x2="497.45" y2="984.60" stroke="#222" stroke-width="1.2"/>
<line x1="499.54" y1="982.40" x2="499.54" y2="984.60" stroke="#222" stroke-width="1.2"/>
<line x1="501.31" y1="982.40" x2="501.31" y2="984.60" stroke="#222" stroke-width="1.2"/>
<line x1="502.84" y1="982.40" x2="502.84" y2="984.60" stroke="#222" stroke-width="1.2"/>
<line x1="504.19" y1="982.40" x2="504.19" y2="984.60" stroke="#222" stroke-width="1.2"/>
<line x1="531.90" y1="982.40" x2="531.90" y2="986.20" stroke="#111" stroke-width="2.6"/>
<line x1="513.38" y1="982.40" x2="513.38" y2="984.60" stroke="#222" stroke-width="1.2"/>
<line x1="518.04" y1="982.40" x2="518.04" y2="984.60" stroke="#222" stroke-width="1.2"/>
<line x1="521.35" y1="982.40" x2="521.35" y2="984.60" stroke="#222" stroke-width="1.2"/>
<line x1="523.92" y1="982.40" x2="523.92" y2="984.60" stroke="#222" stroke-width="1.2"/>
<line x1="526.02" y1="982.40" x2="526.02" y2="984.60" stroke="#222" stroke-width="1.2"/>
<line x1="527.80" y1="982.40" x2="527.80" y2="984.60" stroke="#222" stroke-width="1.2"/>
<line x1="529.33" y1="982.40" x2="529.33" y2="984.60" stroke="#222" stroke-width="1.2"/>
<line x1="530.69" y1="982.40" x2="530.69" y2="984.60" stroke="#222" stroke-width="1.2"/>
<line x1="558.40" y1="982.40" x2="558.40" y2="986.20" stroke="#111" stroke-width="2.6"/>
<line x1="539.88" y1="982.40" x2="539.88" y2="984.60" stroke="#222" stroke-width="1.2"/>
<line x1="544.54" y1="982.40" x2="544.54" y2="984.60" stroke="#222" stroke-width="1.2"/>
<line x1="547.85" y1="982.40" x2="547.85" y2="984.60" stroke="#222" stroke-width="1.2"/>
<line x1="550.42" y1="982.40" x2="550.42" y2="984.60" stroke="#222" stroke-width="1.2"/>
<line x1="552.52" y1="982.40" x2="552.52" y2="984.60" stroke="#222" stroke-width="1.2"/>
<line x1="554.30" y1="982.40" x2="554.30" y2="984.60" stroke="#222" stroke-width="1.2"/>
<line x1="555.83" y1="982.40" x2="555.83" y2="984.60" stroke="#222" stroke-width="1.2"/>
<line x1="557.19" y1="982.40" x2="557.19" y2="984.60" stroke="#222" stroke-width="1.2"/>
<rect x="429.40" y="982.40" width="22.20" height="2.60" fill="#111" stroke="none" stroke-width="0"/>
<line x1="430.10" y1="982.40" x2="430.10" y2="986.00" stroke="#111" stroke-width="2.2"/>
<line x1="438.10" y1="982.40" x2="438.10" y2="986.00" stroke="#111" stroke-width="2.2"/>
<line x1="444.00" y1="982.40" x2="444.00" y2="986.00" stroke="#111" stroke-width="2.2"/>
<line x1="450.60" y1="982.40" x2="450.60" y2="986.00" stroke="#111" stroke-width="2.2"/>
<text x="421.10" y="850.60" font-size="6.9" text-anchor="end" fill="#2a2a2a">10<tspan dy="-3" font-size="4.8">6</tspan></text>
<text x="421.10" y="873.70" font-size="6.9" text-anchor="end" fill="#2a2a2a">10<tspan dy="-3" font-size="4.8">5</tspan></text>
<text x="421.10" y="900.50" font-size="6.9" text-anchor="end" fill="#2a2a2a">10<tspan dy="-3" font-size="4.8">4</tspan></text>
<text x="421.10" y="930.20" font-size="6.9" text-anchor="end" fill="#2a2a2a">10<tspan dy="-3" font-size="4.8">3</tspan></text>
<text x="421.10" y="960.70" font-size="6.9" text-anchor="end" fill="#2a2a2a">10<tspan dy="-3" font-size="4.8">2</tspan></text>
<text x="418.30" y="971.90" font-size="6.9" text-anchor="end" font-weight="normal" fill="#2a2a2a" >0</text>
<text x="444.00" y="995.60" font-size="6.9" text-anchor="middle" font-weight="normal" fill="#2a2a2a" >0</text>
<text x="480.50" y="995.60" font-size="6.9" text-anchor="middle" fill="#2a2a2a">10<tspan dy="-3" font-size="4.8">3</tspan></text>
<text x="506.90" y="995.60" font-size="6.9" text-anchor="middle" fill="#2a2a2a">10<tspan dy="-3" font-size="4.8">4</tspan></text>
<text x="533.40" y="995.60" font-size="6.9" text-anchor="middle" fill="#2a2a2a">10<tspan dy="-3" font-size="4.8">5</tspan></text>
<text x="559.90" y="995.60" font-size="6.9" text-anchor="middle" fill="#2a2a2a">10<tspan dy="-3" font-size="4.8">6</tspan></text>
<text x="504.95" y="1005.60" font-size="8.4" text-anchor="middle" font-weight="normal" fill="#2a2a2a" >FL1-A :: EGFP-A</text>
<text transform="translate(406.10,904.50) rotate(-90)" font-size="8.4" text-anchor="middle" fill="#2a2a2a">FL3-A :: mRFP1-A</text>
<text x="493.50" y="834.60" font-size="10.6" text-anchor="middle" font-weight="normal" fill="#2a2a2a" >TransIT-X2</text>
<text x="430.60" y="852.40" font-size="6.2" text-anchor="start" font-weight="normal" fill="#2a2a2a" >Q1</text>
<text x="430.60" y="861.00" font-size="6.2" text-anchor="start" font-weight="normal" fill="#2a2a2a" >58.2</text>
<text x="556.90" y="852.40" font-size="6.2" text-anchor="end" font-weight="normal" fill="#2a2a2a" >Q2</text>
<text x="556.90" y="861.00" font-size="6.2" text-anchor="end" font-weight="normal" fill="#2a2a2a" >34.9</text>
<text x="430.60" y="966.60" font-size="6.2" text-anchor="start" font-weight="normal" fill="#2a2a2a" >Q4</text>
<text x="430.60" y="975.50" font-size="6.2" text-anchor="start" font-weight="normal" fill="#2a2a2a" >6.34</text>
<text x="556.90" y="966.60" font-size="6.2" text-anchor="end" font-weight="normal" fill="#2a2a2a" >Q3</text>
<text x="556.90" y="975.50" font-size="6.2" text-anchor="end" font-weight="normal" fill="#2a2a2a" >0.51</text>
</svg></body></html>
